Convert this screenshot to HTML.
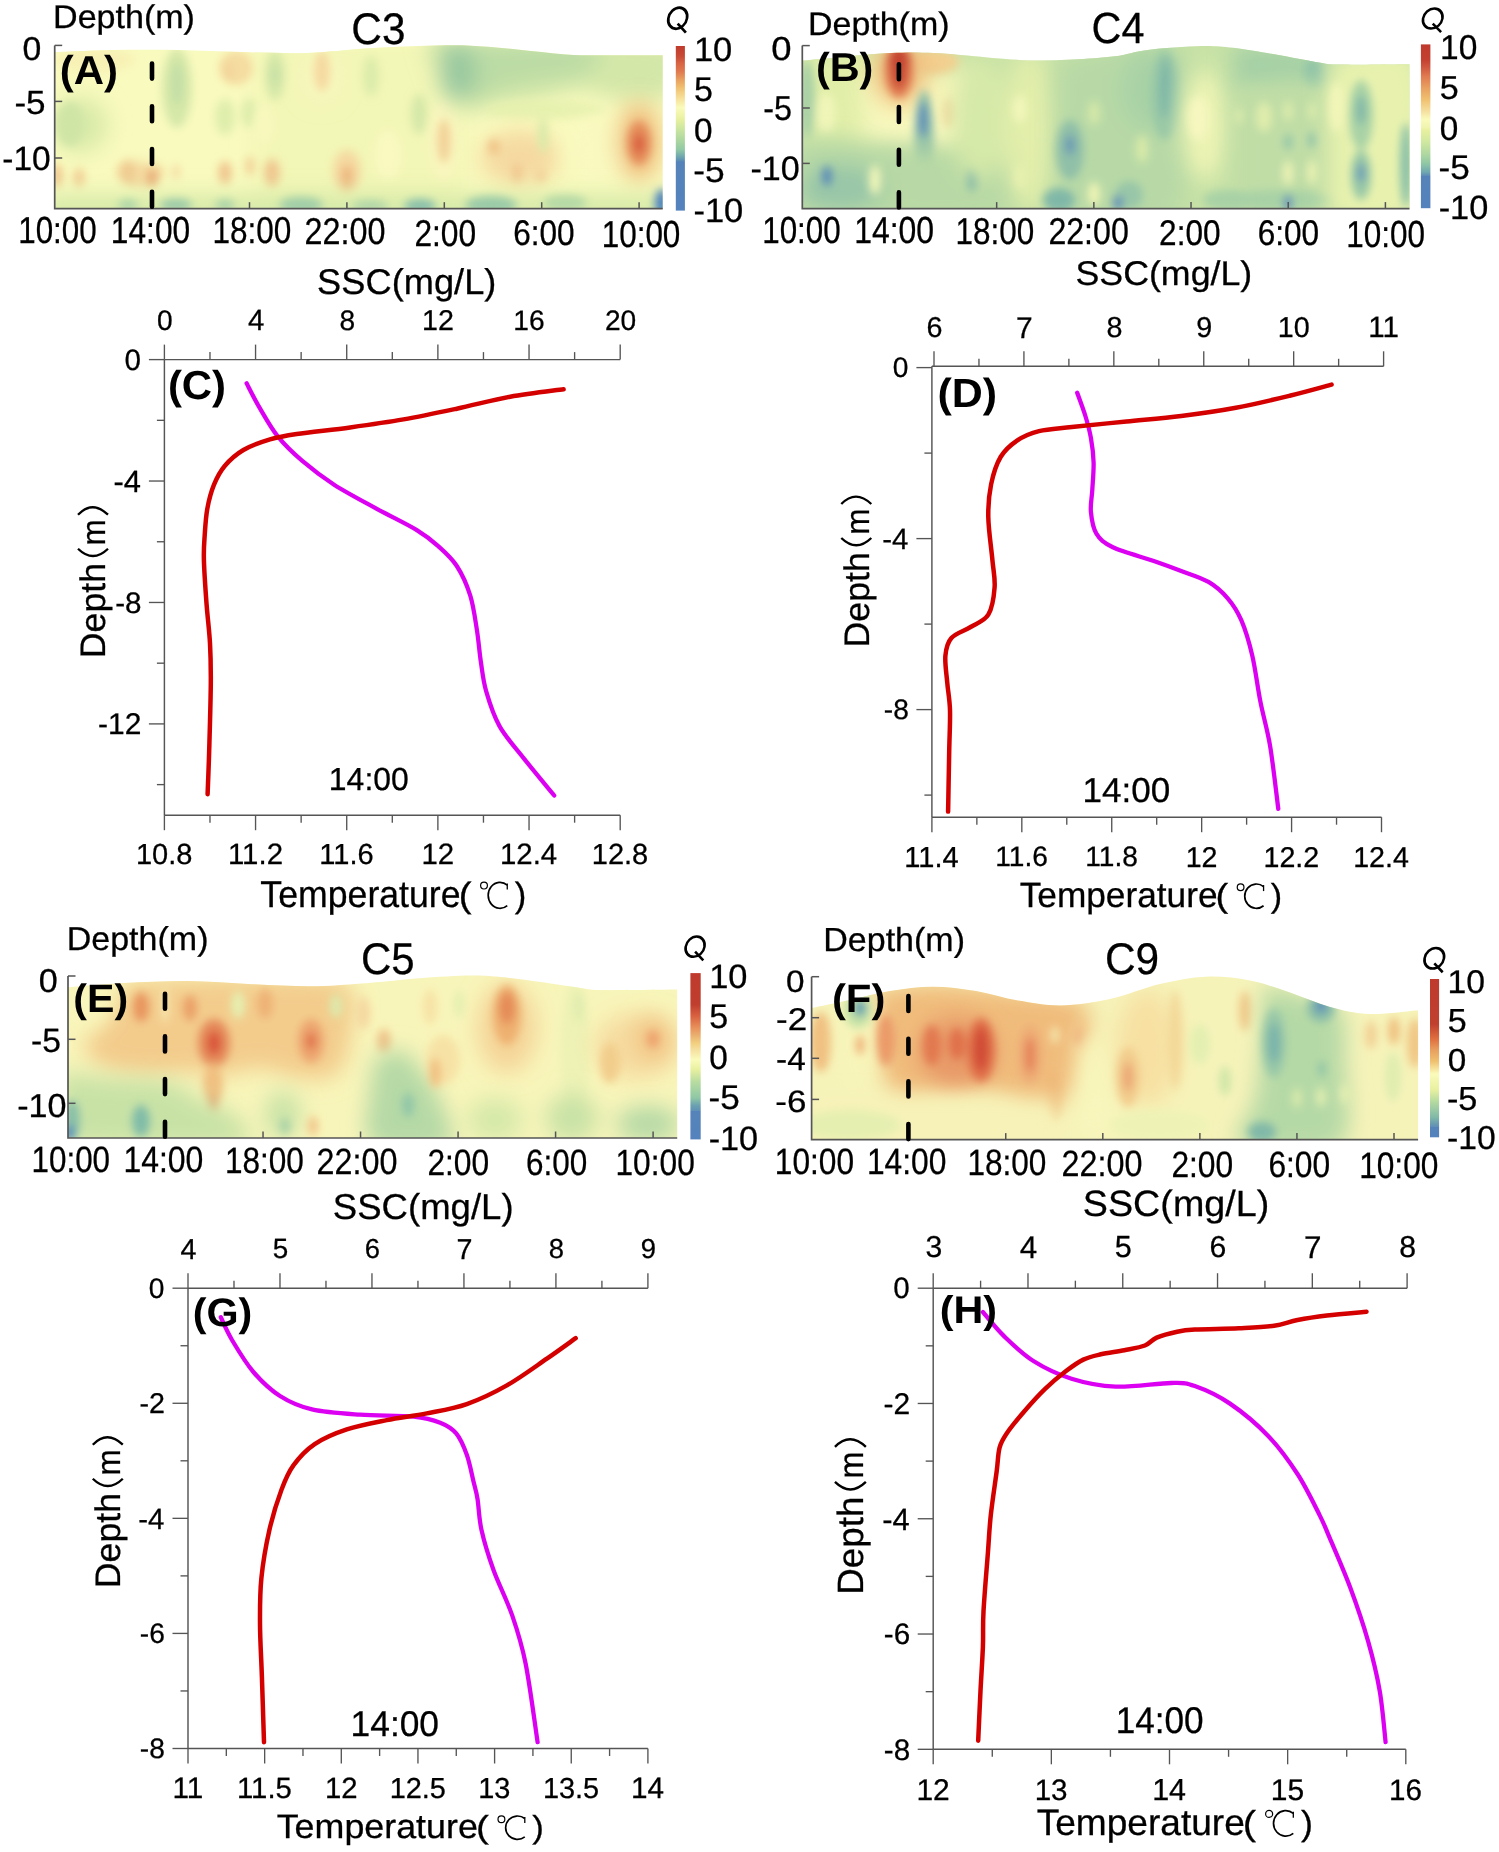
<!DOCTYPE html>
<html><head><meta charset="utf-8"><style>html,body{margin:0;padding:0;background:#fff;}svg{display:block;font-family:'Liberation Sans', sans-serif;-webkit-font-smoothing:antialiased;text-rendering:geometricPrecision;will-change:transform;}</style></head>
<body><svg width="1499" height="1852" viewBox="0 0 1499 1852">
<defs><clipPath id="clip0"><path d="M54.7,52 C64.58,51.65 93.45,50.25 114,49.9 C134.55,49.55 156.67,49.55 178,49.9 C199.33,50.25 220.67,51.47 242,52 C263.33,52.53 284.67,53.72 306,53.1 C327.33,52.48 346.77,49.62 370,48.3 C393.23,46.98 425.73,45.47 445.4,45.2 C465.07,44.93 473.77,45.73 488,46.7 C502.23,47.67 516.55,49.62 530.8,51 C545.05,52.38 559.3,54.3 573.5,55 C587.7,55.7 601.13,55.17 616,55.2 C630.87,55.23 654.92,55.2 662.7,55.2 L662.7,208.7 L54.7,208.7 Z"/></clipPath><filter id="blur0" filterUnits="userSpaceOnUse" x="-5.3" y="-14.8" width="728" height="283.5"><feGaussianBlur stdDeviation="4"/></filter><filter id="bblur0" filterUnits="userSpaceOnUse" x="-5.3" y="-14.8" width="728" height="283.5"><feGaussianBlur stdDeviation="11"/></filter><linearGradient id="cb0" x1="0" y1="0" x2="0" y2="1"><stop offset="0" stop-color="#bf3a2c"/><stop offset="0.06" stop-color="#c84a35"/><stop offset="0.108" stop-color="#d86545"/><stop offset="0.156" stop-color="#e07a50"/><stop offset="0.205" stop-color="#e8a060"/><stop offset="0.253" stop-color="#f0c070"/><stop offset="0.301" stop-color="#f5d890"/><stop offset="0.374" stop-color="#fafbbb"/><stop offset="0.446" stop-color="#e8f0a0"/><stop offset="0.494" stop-color="#d0e8a0"/><stop offset="0.583" stop-color="#a8d4a0"/><stop offset="0.631" stop-color="#90c8a5"/><stop offset="0.679" stop-color="#6aa0b0"/><stop offset="0.7" stop-color="#5a8ab5"/><stop offset="0.703" stop-color="#5583b9"/><stop offset="1" stop-color="#5382bd"/></linearGradient><clipPath id="clip1"><path d="M802.3,60.6 C808.2,60.07 822.92,58.65 837.7,57.4 C852.48,56.15 874.98,53.82 891,53.1 C907.02,52.38 917.8,52.38 933.8,53.1 C949.8,53.82 971,56.18 987,57.4 C1003,58.62 1015.55,60.05 1029.8,60.4 C1044.05,60.75 1058.3,60.18 1072.5,59.5 C1086.7,58.82 1102.47,57.9 1115,56.3 C1127.53,54.7 1133.37,51.62 1147.7,49.9 C1162.03,48.18 1186.78,46.35 1201,46 C1215.22,45.65 1220.53,46.37 1233,47.8 C1245.47,49.23 1261.55,52.15 1275.8,54.6 C1290.05,57.05 1307.8,60.83 1318.5,62.5 C1329.2,64.17 1324.83,64.32 1340,64.6 C1355.17,64.88 1397.92,64.27 1409.5,64.2 L1409.5,208.6 L802.3,208.6 Z"/></clipPath><filter id="blur1" filterUnits="userSpaceOnUse" x="742.3" y="-14" width="727.2" height="282.6"><feGaussianBlur stdDeviation="4"/></filter><filter id="bblur1" filterUnits="userSpaceOnUse" x="742.3" y="-14" width="727.2" height="282.6"><feGaussianBlur stdDeviation="11"/></filter><linearGradient id="cb1" x1="0" y1="0" x2="0" y2="1"><stop offset="0" stop-color="#bf3a2c"/><stop offset="0.094" stop-color="#c44030"/><stop offset="0.143" stop-color="#d05a40"/><stop offset="0.191" stop-color="#e07850"/><stop offset="0.264" stop-color="#e8a060"/><stop offset="0.336" stop-color="#f0c070"/><stop offset="0.409" stop-color="#f5e0a0"/><stop offset="0.458" stop-color="#fafbbb"/><stop offset="0.506" stop-color="#f0f5b0"/><stop offset="0.523" stop-color="#e8f0a0"/><stop offset="0.595" stop-color="#d0e8a0"/><stop offset="0.668" stop-color="#b0d8a0"/><stop offset="0.726" stop-color="#90c8a5"/><stop offset="0.779" stop-color="#70a8b0"/><stop offset="0.8" stop-color="#6090b5"/><stop offset="0.803" stop-color="#5583b9"/><stop offset="1" stop-color="#5382bd"/></linearGradient><clipPath id="clip2"><path d="M68,987.4 C77.33,986.68 104,984.17 124,983.1 C144,982.03 166.67,980.82 188,981 C209.33,981.18 230.67,983.32 252,984.2 C273.33,985.08 294.67,986.67 316,986.3 C337.33,985.93 363.83,983.25 380,982 C396.17,980.75 398.67,979.87 413,978.8 C427.33,977.73 451.83,975.95 466,975.6 C480.17,975.25 485.5,975.63 498,976.7 C510.5,977.77 526.75,980.05 541,982 C555.25,983.95 572.83,987.05 583.5,988.4 C594.17,989.75 589.38,989.92 605,990.1 C620.62,990.28 665.17,989.6 677.2,989.5 L677.2,1138 L68,1138 Z"/></clipPath><filter id="blur2" filterUnits="userSpaceOnUse" x="8" y="915.6" width="729.2" height="282.4"><feGaussianBlur stdDeviation="4"/></filter><filter id="bblur2" filterUnits="userSpaceOnUse" x="8" y="915.6" width="729.2" height="282.4"><feGaussianBlur stdDeviation="11"/></filter><linearGradient id="cb2" x1="0" y1="0" x2="0" y2="1"><stop offset="0" stop-color="#bf3a2c"/><stop offset="0.19" stop-color="#c03e2e"/><stop offset="0.256" stop-color="#d86040"/><stop offset="0.327" stop-color="#e8905a"/><stop offset="0.375" stop-color="#eab070"/><stop offset="0.422" stop-color="#f2d080"/><stop offset="0.462" stop-color="#f5e0a0"/><stop offset="0.52" stop-color="#fafbbb"/><stop offset="0.58" stop-color="#e8f0a0"/><stop offset="0.653" stop-color="#b8dca0"/><stop offset="0.749" stop-color="#90c8a5"/><stop offset="0.797" stop-color="#6aa0b0"/><stop offset="0.827" stop-color="#5f92b5"/><stop offset="0.83" stop-color="#5583b9"/><stop offset="1" stop-color="#5382bd"/></linearGradient><clipPath id="clip3"><path d="M811.6,1008 C818,1006.67 836.93,1002.83 850,1000 C863.07,997.17 876.17,993.22 890,991 C903.83,988.78 918.67,986.7 933,986.7 C947.33,986.7 961.83,988.68 976,991 C990.17,993.32 1003.83,998.18 1018,1000.6 C1032.17,1003.02 1045.67,1005.77 1061,1005.5 C1076.33,1005.23 1093.5,1002.58 1110,999 C1126.5,995.42 1144,987.72 1160,984 C1176,980.28 1191,977.28 1206,976.7 C1221,976.12 1236,977.87 1250,980.5 C1264,983.13 1276.67,988.08 1290,992.5 C1303.33,996.92 1316.67,1003.42 1330,1007 C1343.33,1010.58 1355.32,1013.47 1370,1014 C1384.68,1014.53 1410.08,1010.83 1418.1,1010.2 L1418.1,1139.6 L811.6,1139.6 Z"/></clipPath><filter id="blur3" filterUnits="userSpaceOnUse" x="751.6" y="916.7" width="726.5" height="282.9"><feGaussianBlur stdDeviation="4"/></filter><filter id="bblur3" filterUnits="userSpaceOnUse" x="751.6" y="916.7" width="726.5" height="282.9"><feGaussianBlur stdDeviation="11"/></filter><linearGradient id="cb3" x1="0" y1="0" x2="0" y2="1"><stop offset="0" stop-color="#bf3a2c"/><stop offset="0.285" stop-color="#c0402e"/><stop offset="0.38" stop-color="#e07040"/><stop offset="0.45" stop-color="#e8a060"/><stop offset="0.52" stop-color="#f0c070"/><stop offset="0.6" stop-color="#fafbbb"/><stop offset="0.7" stop-color="#e8f0a0"/><stop offset="0.77" stop-color="#b8dca0"/><stop offset="0.875" stop-color="#80b8a8"/><stop offset="0.915" stop-color="#6a9ab0"/><stop offset="0.932" stop-color="#6090b5"/><stop offset="0.935" stop-color="#5583b9"/><stop offset="1" stop-color="#5382bd"/></linearGradient></defs>
<rect width="1499" height="1852" fill="#fff"/>
<g clip-path="url(#clip0)">
<rect x="24.7" y="15.2" width="668" height="223.5" fill="#f9fabe"/>
<g filter="url(#bblur0)">
<rect x="255" y="40" width="210" height="180" fill="#f2f6b6" opacity="1"/>
</g>
<g filter="url(#blur0)">
<ellipse cx="95" cy="60" rx="40" ry="12" fill="#f8f1b5" opacity="1"/>
</g>
<g filter="url(#bblur0)">
<ellipse cx="80" cy="125" rx="28" ry="28" fill="#d8eaa8" opacity="1"/>
</g>
<g filter="url(#blur0)">
<ellipse cx="70" cy="124" rx="14" ry="22" fill="#cfe5a6" opacity="1"/>
<ellipse cx="177" cy="88" rx="15" ry="40" fill="#d5e8a8" opacity="1"/>
<ellipse cx="177" cy="84" rx="6" ry="22" fill="#c2dea6" opacity="1"/>
<ellipse cx="236" cy="68" rx="17" ry="17" fill="#f5dca0" opacity="1"/>
<ellipse cx="228" cy="72" rx="4" ry="10" fill="#f2d298" opacity="1"/>
<ellipse cx="225" cy="117" rx="10" ry="18" fill="#dfeeac" opacity="1"/>
<ellipse cx="249" cy="113" rx="8" ry="15" fill="#dfeeac" opacity="1"/>
<ellipse cx="140" cy="172" rx="24" ry="16" fill="#f5dca0" opacity="1"/>
<ellipse cx="57" cy="176" rx="6" ry="12" fill="#f0c890" opacity="1"/>
<ellipse cx="79" cy="178" rx="6" ry="10" fill="#f2cf95" opacity="1"/>
<ellipse cx="128" cy="173" rx="8" ry="12" fill="#f0cc92" opacity="1"/>
<ellipse cx="152" cy="178" rx="6" ry="10" fill="#eab07a" opacity="1"/>
<ellipse cx="176" cy="172" rx="4" ry="8" fill="#f5dca5" opacity="1"/>
<ellipse cx="225" cy="173" rx="7" ry="12" fill="#f0c890" opacity="1"/>
<ellipse cx="250" cy="166" rx="5" ry="10" fill="#f3d49a" opacity="1"/>
<ellipse cx="160" cy="150" rx="40" ry="15" fill="#f9fabe" opacity="0.8"/>
<ellipse cx="275" cy="75" rx="10" ry="25" fill="#d5e8a8" opacity="1"/>
<ellipse cx="275" cy="75" rx="4" ry="10" fill="#c5dfa6" opacity="1"/>
</g>
<g filter="url(#bblur0)">
<ellipse cx="322" cy="76" rx="18" ry="24" fill="#f9f8c0" opacity="1"/>
</g>
<g filter="url(#blur0)">
<ellipse cx="322" cy="71" rx="8" ry="20" fill="#f5d9a0" opacity="1"/>
<ellipse cx="371" cy="76" rx="8" ry="20" fill="#dcecaa" opacity="1"/>
<ellipse cx="419" cy="114" rx="8" ry="20" fill="#d5e8a8" opacity="1"/>
<ellipse cx="444" cy="140" rx="15" ry="42" fill="#f9f6bd" opacity="1"/>
<ellipse cx="444" cy="141" rx="7" ry="22" fill="#f2d298" opacity="1"/>
<ellipse cx="388" cy="155" rx="14" ry="25" fill="#f9f9c0" opacity="1"/>
<ellipse cx="265" cy="125" rx="10" ry="20" fill="#f8f8bd" opacity="1"/>
<ellipse cx="272" cy="173" rx="8" ry="14" fill="#f0c890" opacity="1"/>
<ellipse cx="347" cy="172" rx="14" ry="22" fill="#f5d9a0" opacity="1"/>
<ellipse cx="347" cy="177" rx="6" ry="12" fill="#eeb880" opacity="1"/>
</g>
<g filter="url(#bblur0)">
<path d="M425,40 C465.83,40 629.17,30.83 670,40 C710.83,49.17 678.33,85 670,95 C661.67,105 635,100.83 620,100 C605,99.17 593.33,90 580,90 C566.67,90 553.33,97.5 540,100 C526.67,102.5 511.67,103 500,105 C488.33,107 479.17,113.67 470,112 C460.83,110.33 449.17,97.83 445,95 Z" fill="#d3e7a8" opacity="1"/>
<path d="M430,40 C456.67,40 564.17,34.17 590,40 C615.83,45.83 592.5,68 585,75 C577.5,82 557.5,79.83 545,82 C532.5,84.17 520.83,85 510,88 C499.17,91 489.17,99.67 480,100 C470.83,100.33 459.17,91.67 455,90 Z" fill="#bcdca5" opacity="1"/>
<ellipse cx="458" cy="72" rx="18" ry="30" fill="#98c8a0" opacity="1"/>
</g>
<g filter="url(#blur0)">
<ellipse cx="545" cy="110" rx="60" ry="10" fill="#e5f0ac" opacity="0.8"/>
</g>
<g filter="url(#bblur0)">
<ellipse cx="520" cy="158" rx="40" ry="28" fill="#f5d9a0" opacity="1"/>
</g>
<g filter="url(#blur0)">
<ellipse cx="494" cy="147" rx="6" ry="8" fill="#f0c488" opacity="1"/>
<ellipse cx="517" cy="173" rx="5" ry="10" fill="#f0c890" opacity="1"/>
<ellipse cx="541" cy="176" rx="4" ry="7" fill="#f2cc94" opacity="1"/>
<ellipse cx="543" cy="135" rx="5" ry="18" fill="#d8eaa8" opacity="1"/>
</g>
<g filter="url(#bblur0)">
<ellipse cx="600" cy="150" rx="30" ry="30" fill="#f9f9c0" opacity="1"/>
<ellipse cx="639" cy="142" rx="22" ry="40" fill="#f0c080" opacity="1"/>
</g>
<g filter="url(#blur0)">
<ellipse cx="639" cy="143" rx="12" ry="22" fill="#e58c5a" opacity="1"/>
<ellipse cx="639" cy="144" rx="5" ry="10" fill="#d85a3c" opacity="1"/>
</g>
<g filter="url(#bblur0)">
<rect x="40" y="195" width="640" height="30" fill="#d5eaa8" opacity="1"/>
</g>
<g filter="url(#blur0)">
<ellipse cx="128" cy="205" rx="10" ry="5" fill="#a8d3a8" opacity="1"/>
<ellipse cx="176" cy="205" rx="16" ry="6" fill="#98c8a8" opacity="1"/>
<ellipse cx="225" cy="205" rx="10" ry="5" fill="#a5d0a8" opacity="1"/>
<ellipse cx="301" cy="205" rx="22" ry="8" fill="#a0cea8" opacity="1"/>
<ellipse cx="370" cy="206" rx="18" ry="6" fill="#b0d6a8" opacity="1"/>
<ellipse cx="420" cy="206" rx="16" ry="7" fill="#88bfab" opacity="1"/>
<ellipse cx="491" cy="205" rx="26" ry="9" fill="#9acaa8" opacity="1"/>
<ellipse cx="565" cy="203" rx="22" ry="8" fill="#b5d9a6" opacity="1"/>
<ellipse cx="662" cy="203" rx="7" ry="14" fill="#4a80bf" opacity="1"/>
</g>
</g>
<path d="M54.7,45.4 V208.7 H662.7" fill="none" stroke="#555" stroke-width="1.7"/>
<line x1="54.7" y1="45.4" x2="62.2" y2="45.4" stroke="#555" stroke-width="1.5"/>
<line x1="54.7" y1="101.4" x2="62.2" y2="101.4" stroke="#555" stroke-width="1.5"/>
<line x1="54.7" y1="158" x2="62.2" y2="158" stroke="#555" stroke-width="1.5"/>
<line x1="152.1" y1="208.7" x2="152.1" y2="202.2" stroke="#555" stroke-width="1.5"/>
<line x1="249.5" y1="208.7" x2="249.5" y2="202.2" stroke="#555" stroke-width="1.5"/>
<line x1="346.9" y1="208.7" x2="346.9" y2="202.2" stroke="#555" stroke-width="1.5"/>
<line x1="444.3" y1="208.7" x2="444.3" y2="202.2" stroke="#555" stroke-width="1.5"/>
<line x1="541.7" y1="208.7" x2="541.7" y2="202.2" stroke="#555" stroke-width="1.5"/>
<line x1="639.1" y1="208.7" x2="639.1" y2="202.2" stroke="#555" stroke-width="1.5"/>
<line x1="152" y1="63.6" x2="152" y2="208.7" stroke="#000" stroke-width="4.6" stroke-dasharray="15 27.7" stroke-linecap="round" stroke-dashoffset="0"/>
<rect x="675.8" y="46" width="9.1" height="164.6" fill="url(#cb0)"/>
<text transform="translate(53.08,28.12) scale(0.3404,0.3277)" font-size="100" fill="#000" stroke="#000" stroke-width="0.85">Depth(m)</text>
<text transform="translate(351.28,44.26) scale(0.4237,0.4423)" font-size="100" fill="#000" stroke="#000" stroke-width="0.63">C3</text>
<ellipse cx="0" cy="0" rx="9.32" ry="10.58" fill="none" stroke="#000" stroke-width="2.69" transform="translate(677.7,18.22) skewX(-9)"/><line x1="677.7" y1="23.56" x2="685.89" y2="32.63" stroke="#000" stroke-width="2.69"/>
<text transform="translate(59.7,83.51) scale(0.4202,0.4043)" font-size="100" font-weight="bold" fill="#000">(A)</text>
<text transform="translate(22.55,60.47) scale(0.3375,0.3310)" font-size="100" fill="#000" stroke="#000" stroke-width="0.85">0</text>
<text transform="translate(14.4,113.56) scale(0.3506,0.3357)" font-size="100" fill="#000" stroke="#000" stroke-width="0.83">-5</text>
<text transform="translate(2.26,170.26) scale(0.3343,0.3366)" font-size="100" fill="#000" stroke="#000" stroke-width="0.83">-10</text>
<text transform="translate(18.19,243.02) scale(0.3139,0.3761)" font-size="100" fill="#000" stroke="#000" stroke-width="0.74">10:00</text>
<text transform="translate(110.87,243.02) scale(0.3168,0.3761)" font-size="100" fill="#000" stroke="#000" stroke-width="0.74">14:00</text>
<text transform="translate(212.48,243.13) scale(0.3151,0.3732)" font-size="100" fill="#000" stroke="#000" stroke-width="0.75">18:00</text>
<text transform="translate(304.38,244.13) scale(0.3237,0.3732)" font-size="100" fill="#000" stroke="#000" stroke-width="0.75">22:00</text>
<text transform="translate(414.41,245.63) scale(0.3172,0.3732)" font-size="100" fill="#000" stroke="#000" stroke-width="0.75">2:00</text>
<text transform="translate(513.22,244.64) scale(0.3156,0.3563)" font-size="100" fill="#000" stroke="#000" stroke-width="0.79">6:00</text>
<text transform="translate(601.69,247.32) scale(0.3143,0.3761)" font-size="100" fill="#000" stroke="#000" stroke-width="0.74">10:00</text>
<text transform="translate(693.94,61.06) scale(0.3444,0.3380)" font-size="100" fill="#000" stroke="#000" stroke-width="0.83">10</text>
<text transform="translate(693.94,101.06) scale(0.3404,0.3429)" font-size="100" fill="#000" stroke="#000" stroke-width="0.82">5</text>
<text transform="translate(693.97,141.66) scale(0.3333,0.3380)" font-size="100" fill="#000" stroke="#000" stroke-width="0.83">0</text>
<text transform="translate(693.29,181.66) scale(0.3531,0.3429)" font-size="100" fill="#000" stroke="#000" stroke-width="0.82">-5</text>
<text transform="translate(693.42,221.66) scale(0.3445,0.3380)" font-size="100" fill="#000" stroke="#000" stroke-width="0.83">-10</text>
<g clip-path="url(#clip1)">
<rect x="772.3" y="16" width="667.2" height="222.6" fill="#c8e2a6"/>
<g filter="url(#bblur1)">
<path d="M795,55 C809.17,54.17 865.83,36.17 880,50 C894.17,63.83 886.67,123 880,138 C873.33,153 854.17,139.67 840,140 C825.83,140.33 802.5,140 795,140 Z" fill="#e0eea8" opacity="1"/>
</g>
<g filter="url(#blur1)">
<ellipse cx="807" cy="100" rx="8" ry="40" fill="#a8d0a5" opacity="1"/>
<ellipse cx="826" cy="113" rx="10" ry="20" fill="#f0f5b8" opacity="1"/>
</g>
<g filter="url(#bblur1)">
<path d="M860,75 C879.17,75 956.67,63.33 975,75 C993.33,86.67 988.33,133.33 970,145 C951.67,156.67 882.5,145 865,145 Z" fill="#f8f8bd" opacity="1"/>
<ellipse cx="950" cy="100" rx="20" ry="25" fill="#f6f4b8" opacity="1"/>
</g>
<g filter="url(#blur1)">
<ellipse cx="935" cy="62" rx="25" ry="12" fill="#f3d090" opacity="1"/>
</g>
<g filter="url(#bblur1)">
<ellipse cx="900" cy="72" rx="28" ry="34" fill="#f0c080" opacity="1"/>
</g>
<g filter="url(#blur1)">
<ellipse cx="899" cy="70" rx="14" ry="28" fill="#e07850" opacity="1"/>
<ellipse cx="899" cy="66" rx="8" ry="22" fill="#c44530" opacity="1"/>
<ellipse cx="899" cy="60" rx="10" ry="10" fill="#c44530" opacity="1"/>
<ellipse cx="924" cy="140" rx="10" ry="50" fill="#90c0a8" opacity="1"/>
<ellipse cx="923" cy="120" rx="5" ry="18" fill="#6090b8" opacity="1"/>
<ellipse cx="924" cy="160" rx="4" ry="15" fill="#80b4aa" opacity="1"/>
<ellipse cx="949" cy="113" rx="6" ry="15" fill="#f3d8a0" opacity="1"/>
</g>
<g filter="url(#bblur1)">
<path d="M795,140 C809.17,140.83 852.5,143.33 880,145 C907.5,146.67 939.17,150 960,150 C980.83,150 997.5,134.17 1005,145 C1012.5,155.83 1040,203.33 1005,215 C970,226.67 830,215 795,215 Z" fill="#b8d9a5" opacity="1"/>
<ellipse cx="840" cy="188" rx="42" ry="24" fill="#98c6a8" opacity="1"/>
</g>
<g filter="url(#blur1)">
<ellipse cx="827" cy="176" rx="5" ry="10" fill="#5a8ab8" opacity="1"/>
<ellipse cx="875" cy="180" rx="6" ry="15" fill="#f0f5b8" opacity="1"/>
<ellipse cx="972" cy="179" rx="5" ry="12" fill="#78b0a8" opacity="1"/>
</g>
<g filter="url(#bblur1)">
<ellipse cx="980" cy="120" rx="28" ry="60" fill="#d5e9a8" opacity="1"/>
<ellipse cx="1030" cy="130" rx="26" ry="80" fill="#e2eeaa" opacity="1"/>
</g>
<g filter="url(#blur1)">
<ellipse cx="1020" cy="109" rx="7" ry="14" fill="#f2f6ba" opacity="1"/>
<ellipse cx="1020" cy="177" rx="5" ry="12" fill="#e8f1b0" opacity="1"/>
</g>
<g filter="url(#bblur1)">
<path d="M1056,60 C1076.33,58 1157.67,22.17 1178,48 C1198.33,73.83 1198.33,187.17 1178,215 C1157.67,242.83 1076.33,215 1056,215 Z" fill="#b8d9a6" opacity="1"/>
<ellipse cx="1150" cy="90" rx="30" ry="40" fill="#a8d2a6" opacity="1"/>
</g>
<g filter="url(#blur1)">
<ellipse cx="1165" cy="95" rx="14" ry="45" fill="#98c8a6" opacity="1"/>
<ellipse cx="1165" cy="89" rx="6" ry="30" fill="#80b8a8" opacity="1"/>
<ellipse cx="1070" cy="150" rx="14" ry="30" fill="#90c0a8" opacity="1"/>
<ellipse cx="1070" cy="145" rx="5" ry="10" fill="#6a98b5" opacity="1"/>
<ellipse cx="1094" cy="113" rx="6" ry="12" fill="#d5e8a8" opacity="1"/>
<ellipse cx="1142" cy="149" rx="6" ry="14" fill="#d8eaa8" opacity="1"/>
<ellipse cx="1094" cy="194" rx="6" ry="12" fill="#f0f5b5" opacity="1"/>
<ellipse cx="1059" cy="200" rx="16" ry="12" fill="#80b8a8" opacity="1"/>
<ellipse cx="1129" cy="195" rx="14" ry="14" fill="#98c6a8" opacity="1"/>
<ellipse cx="1118" cy="203" rx="5" ry="8" fill="#6090b8" opacity="1"/>
</g>
<g filter="url(#bblur1)">
<ellipse cx="1205" cy="125" rx="22" ry="55" fill="#eef4b4" opacity="1"/>
</g>
<g filter="url(#blur1)">
<ellipse cx="1198" cy="118" rx="10" ry="22" fill="#f6f7c0" opacity="1"/>
</g>
<g filter="url(#bblur1)">
<path d="M1233,44 C1249.17,45.33 1314.17,44.33 1330,52 C1345.83,59.67 1344.17,83.67 1328,90 C1311.83,96.33 1248.83,90 1233,90 Z" fill="#a5d0a6" opacity="1"/>
</g>
<g filter="url(#blur1)">
<ellipse cx="1314" cy="75" rx="10" ry="15" fill="#88c0a8" opacity="1"/>
</g>
<g filter="url(#bblur1)">
<path d="M1233,90 C1248.83,90 1312.17,69.17 1328,90 C1343.83,110.83 1343.83,194.17 1328,215 C1312.17,235.83 1248.83,215 1233,215 Z" fill="#c0dda6" opacity="1"/>
</g>
<g filter="url(#blur1)">
<ellipse cx="1264" cy="117" rx="8" ry="15" fill="#e0edac" opacity="1"/>
<ellipse cx="1288" cy="111" rx="5" ry="10" fill="#dbebab" opacity="1"/>
<ellipse cx="1239" cy="116" rx="4" ry="8" fill="#dbebab" opacity="1"/>
<ellipse cx="1312" cy="111" rx="4" ry="9" fill="#dbebab" opacity="1"/>
<ellipse cx="1288" cy="173" rx="5" ry="12" fill="#eef3b5" opacity="1"/>
<ellipse cx="1312" cy="172" rx="5" ry="12" fill="#eaf2b2" opacity="1"/>
<ellipse cx="1288" cy="142" rx="4" ry="8" fill="#90c4a8" opacity="1"/>
<ellipse cx="1312" cy="140" rx="4" ry="8" fill="#8cc0a8" opacity="1"/>
<ellipse cx="1280" cy="200" rx="55" ry="10" fill="#a8d2a6" opacity="1"/>
<ellipse cx="1288" cy="203" rx="4" ry="8" fill="#4f82bc" opacity="1"/>
</g>
<g filter="url(#bblur1)">
<path d="M1328,60 C1342.5,60 1400.5,34.17 1415,60 C1429.5,85.83 1429.5,189.17 1415,215 C1400.5,240.83 1342.5,215 1328,215 Z" fill="#e8f2ae" opacity="1"/>
</g>
<g filter="url(#blur1)">
<ellipse cx="1337" cy="107" rx="8" ry="25" fill="#f2f6b8" opacity="1"/>
<ellipse cx="1361" cy="115" rx="12" ry="35" fill="#a8d2a6" opacity="1"/>
<ellipse cx="1361" cy="110" rx="5" ry="15" fill="#80b8a8" opacity="1"/>
<ellipse cx="1361" cy="175" rx="10" ry="25" fill="#98c8a6" opacity="1"/>
<ellipse cx="1361" cy="173" rx="4" ry="10" fill="#6a9ab8" opacity="1"/>
<ellipse cx="1406" cy="165" rx="6" ry="42" fill="#88c0a8" opacity="1"/>
<ellipse cx="1225" cy="200" rx="22" ry="10" fill="#a8d2a6" opacity="1"/>
</g>
</g>
<path d="M802.3,45.6 V208.6 H1409.5" fill="none" stroke="#555" stroke-width="1.7"/>
<line x1="802.3" y1="45.6" x2="809.8" y2="45.6" stroke="#555" stroke-width="1.5"/>
<line x1="802.3" y1="108" x2="809.8" y2="108" stroke="#555" stroke-width="1.5"/>
<line x1="802.3" y1="163.4" x2="809.8" y2="163.4" stroke="#555" stroke-width="1.5"/>
<line x1="899.48" y1="208.6" x2="899.48" y2="202.1" stroke="#555" stroke-width="1.5"/>
<line x1="996.67" y1="208.6" x2="996.67" y2="202.1" stroke="#555" stroke-width="1.5"/>
<line x1="1093.85" y1="208.6" x2="1093.85" y2="202.1" stroke="#555" stroke-width="1.5"/>
<line x1="1191.03" y1="208.6" x2="1191.03" y2="202.1" stroke="#555" stroke-width="1.5"/>
<line x1="1288.22" y1="208.6" x2="1288.22" y2="202.1" stroke="#555" stroke-width="1.5"/>
<line x1="1385.4" y1="208.6" x2="1385.4" y2="202.1" stroke="#555" stroke-width="1.5"/>
<line x1="898.9" y1="64.3" x2="898.9" y2="208.6" stroke="#000" stroke-width="4.6" stroke-dasharray="15 27.7" stroke-linecap="round" stroke-dashoffset="0"/>
<rect x="1420.9" y="44.4" width="9.5" height="163.8" fill="url(#cb1)"/>
<text transform="translate(807.98,35.14) scale(0.3395,0.3266)" font-size="100" fill="#000" stroke="#000" stroke-width="0.86">Depth(m)</text>
<text transform="translate(1091.53,43.06) scale(0.4142,0.4366)" font-size="100" fill="#000" stroke="#000" stroke-width="0.64">C4</text>
<ellipse cx="0" cy="0" rx="9.7" ry="10" fill="none" stroke="#000" stroke-width="2.54" transform="translate(1432.75,18.57) skewX(-9)"/><line x1="1432.75" y1="23.62" x2="1441.12" y2="32.18" stroke="#000" stroke-width="2.54"/>
<text transform="translate(815.93,80.91) scale(0.4140,0.4043)" font-size="100" font-weight="bold" fill="#000">(B)</text>
<text transform="translate(771.34,60.47) scale(0.3646,0.3324)" font-size="100" fill="#000" stroke="#000" stroke-width="0.84">0</text>
<text transform="translate(763.31,119.96) scale(0.3235,0.3443)" font-size="100" fill="#000" stroke="#000" stroke-width="0.81">-5</text>
<text transform="translate(750.44,179.96) scale(0.3409,0.3394)" font-size="100" fill="#000" stroke="#000" stroke-width="0.82">-10</text>
<text transform="translate(762.19,243.32) scale(0.3139,0.3761)" font-size="100" fill="#000" stroke="#000" stroke-width="0.74">10:00</text>
<text transform="translate(854.14,243.32) scale(0.3197,0.3761)" font-size="100" fill="#000" stroke="#000" stroke-width="0.74">14:00</text>
<text transform="translate(955.48,243.63) scale(0.3147,0.3732)" font-size="100" fill="#000" stroke="#000" stroke-width="0.75">18:00</text>
<text transform="translate(1048.39,244.13) scale(0.3212,0.3732)" font-size="100" fill="#000" stroke="#000" stroke-width="0.75">22:00</text>
<text transform="translate(1159.12,244.64) scale(0.3156,0.3563)" font-size="100" fill="#000" stroke="#000" stroke-width="0.79">2:00</text>
<text transform="translate(1257.72,244.64) scale(0.3156,0.3563)" font-size="100" fill="#000" stroke="#000" stroke-width="0.79">6:00</text>
<text transform="translate(1346.18,247.32) scale(0.3147,0.3761)" font-size="100" fill="#000" stroke="#000" stroke-width="0.74">10:00</text>
<text transform="translate(1440.02,59.35) scale(0.3354,0.3451)" font-size="100" fill="#000" stroke="#000" stroke-width="0.81">10</text>
<text transform="translate(1439.64,98.57) scale(0.3404,0.3314)" font-size="100" fill="#000" stroke="#000" stroke-width="0.84">5</text>
<text transform="translate(1439.67,139.66) scale(0.3333,0.3380)" font-size="100" fill="#000" stroke="#000" stroke-width="0.83">0</text>
<text transform="translate(1438.59,179.16) scale(0.3519,0.3429)" font-size="100" fill="#000" stroke="#000" stroke-width="0.82">-5</text>
<text transform="translate(1438.63,219.16) scale(0.3431,0.3366)" font-size="100" fill="#000" stroke="#000" stroke-width="0.83">-10</text>
<g clip-path="url(#clip2)">
<rect x="38" y="945.6" width="669.2" height="222.4" fill="#f8f5ba"/>
<g filter="url(#bblur2)">
<path d="M128,982 C146.67,981.33 203.83,977.67 240,978 C276.17,978.33 326.67,973.67 345,984 C363.33,994.33 351.67,1024.83 350,1040 C348.33,1055.17 343.33,1068.67 335,1075 C326.67,1081.33 312.5,1079.17 300,1078 C287.5,1076.83 272.5,1068.5 260,1068 C247.5,1067.5 236.67,1074.33 225,1075 C213.33,1075.67 202.5,1072 190,1072 C177.5,1072 164.17,1075.67 150,1075 C135.83,1074.33 115.83,1073 105,1068 C94.17,1063 84.17,1054.67 85,1045 C85.83,1035.33 105.83,1015.83 110,1010 Z" fill="#f3cc8c" opacity="1"/>
</g>
<g filter="url(#blur2)">
<ellipse cx="141" cy="1007" rx="8" ry="15" fill="#e8955f" opacity="1"/>
<ellipse cx="190" cy="1008" rx="7" ry="13" fill="#eaa068" opacity="1"/>
<ellipse cx="214" cy="1043" rx="16" ry="24" fill="#e58a5a" opacity="1"/>
<ellipse cx="214" cy="1043" rx="7" ry="12" fill="#d9553a" opacity="1"/>
<ellipse cx="213" cy="1085" rx="10" ry="22" fill="#f0c080" opacity="1"/>
<ellipse cx="213" cy="1104" rx="5" ry="10" fill="#eca070" opacity="1"/>
<ellipse cx="165" cy="1005" rx="4" ry="18" fill="#f6e8b0" opacity="1"/>
<ellipse cx="238" cy="1005" rx="7" ry="14" fill="#e5efb0" opacity="1"/>
<ellipse cx="265" cy="1004" rx="8" ry="15" fill="#eeb276" opacity="1"/>
<ellipse cx="311" cy="1041" rx="13" ry="22" fill="#eda570" opacity="1"/>
<ellipse cx="311" cy="1041" rx="5" ry="9" fill="#e07048" opacity="1"/>
<ellipse cx="336" cy="1006" rx="6" ry="12" fill="#dbebad" opacity="1"/>
</g>
<g filter="url(#bblur2)">
<ellipse cx="88" cy="1005" rx="22" ry="22" fill="#f9f6bc" opacity="1"/>
<path d="M60,1072 C68.33,1073 91.67,1076.33 110,1078 C128.33,1079.67 155,1078.33 170,1082 C185,1085.67 190,1095 200,1100 C210,1105 223.33,1104.5 230,1112 C236.67,1119.5 268.33,1139.5 240,1145 C211.67,1150.5 90,1145 60,1145 Z" fill="#c8e2a6" opacity="1"/>
</g>
<g filter="url(#blur2)">
<ellipse cx="141" cy="1121" rx="9" ry="16" fill="#80bca8" opacity="1"/>
<ellipse cx="72" cy="1120" rx="8" ry="20" fill="#88bfa8" opacity="1"/>
<ellipse cx="69" cy="1133" rx="5" ry="8" fill="#4f85bc" opacity="1"/>
</g>
<g filter="url(#bblur2)">
<ellipse cx="283" cy="1115" rx="18" ry="25" fill="#c9e3a7" opacity="1"/>
</g>
<g filter="url(#blur2)">
<ellipse cx="285" cy="1126" rx="5" ry="8" fill="#a5d0a6" opacity="1"/>
<ellipse cx="313" cy="1126" rx="5" ry="10" fill="#f2c488" opacity="1"/>
<ellipse cx="363" cy="1013" rx="7" ry="16" fill="#f5d8a0" opacity="1"/>
<ellipse cx="384" cy="1041" rx="7" ry="12" fill="#f0c288" opacity="1"/>
</g>
<g filter="url(#bblur2)">
<path d="M374,1060 C378.33,1058.33 391.5,1047.5 400,1050 C408.5,1052.5 418.33,1066.67 425,1075 C431.67,1083.33 435.83,1088.33 440,1100 C444.17,1111.67 461.33,1137.5 450,1145 C438.67,1152.5 385.33,1154.17 372,1145 C358.67,1135.83 370.33,1099.17 370,1090 Z" fill="#b5d9a6" opacity="1"/>
</g>
<g filter="url(#blur2)">
<ellipse cx="408" cy="1105" rx="6" ry="12" fill="#90c6a8" opacity="1"/>
<ellipse cx="443" cy="1060" rx="17" ry="25" fill="#f7e2a5" opacity="1"/>
<ellipse cx="435" cy="1073" rx="6" ry="15" fill="#f0c080" opacity="1"/>
<ellipse cx="430" cy="1007" rx="7" ry="18" fill="#f7e2a5" opacity="1"/>
<ellipse cx="459" cy="1004" rx="5" ry="14" fill="#e3efb0" opacity="1"/>
</g>
<g filter="url(#bblur2)">
<ellipse cx="507" cy="1028" rx="30" ry="45" fill="#f5d498" opacity="1"/>
</g>
<g filter="url(#blur2)">
<ellipse cx="507" cy="1015" rx="14" ry="30" fill="#eeb070" opacity="1"/>
<ellipse cx="507" cy="1008" rx="8" ry="16" fill="#e58a58" opacity="1"/>
<ellipse cx="579" cy="1007" rx="6" ry="16" fill="#cce4a8" opacity="1"/>
<ellipse cx="575" cy="1050" rx="15" ry="70" fill="#eaf1b2" opacity="0.7"/>
</g>
<g filter="url(#bblur2)">
<ellipse cx="636" cy="1046" rx="42" ry="33" fill="#f6dca0" opacity="1"/>
</g>
<g filter="url(#blur2)">
<ellipse cx="610" cy="1063" rx="10" ry="20" fill="#f2cd8c" opacity="1"/>
</g>
<g filter="url(#bblur2)">
<ellipse cx="653" cy="1039" rx="18" ry="22" fill="#f2c585" opacity="1"/>
</g>
<g filter="url(#blur2)">
<ellipse cx="653" cy="1039" rx="6" ry="9" fill="#eda06c" opacity="1"/>
</g>
<g filter="url(#bblur2)">
<ellipse cx="572" cy="1118" rx="26" ry="24" fill="#c8e2a6" opacity="1"/>
<ellipse cx="648" cy="1124" rx="32" ry="18" fill="#b5d9a6" opacity="1"/>
<ellipse cx="495" cy="1120" rx="28" ry="22" fill="#d5e9a8" opacity="1"/>
</g>
</g>
<path d="M68,976 V1138 H677.2" fill="none" stroke="#555" stroke-width="1.7"/>
<line x1="68" y1="976" x2="75.5" y2="976" stroke="#555" stroke-width="1.5"/>
<line x1="68" y1="1039.3" x2="75.5" y2="1039.3" stroke="#555" stroke-width="1.5"/>
<line x1="68" y1="1103.3" x2="75.5" y2="1103.3" stroke="#555" stroke-width="1.5"/>
<line x1="165.52" y1="1138" x2="165.52" y2="1131.5" stroke="#555" stroke-width="1.5"/>
<line x1="263.03" y1="1138" x2="263.03" y2="1131.5" stroke="#555" stroke-width="1.5"/>
<line x1="360.55" y1="1138" x2="360.55" y2="1131.5" stroke="#555" stroke-width="1.5"/>
<line x1="458.07" y1="1138" x2="458.07" y2="1131.5" stroke="#555" stroke-width="1.5"/>
<line x1="555.58" y1="1138" x2="555.58" y2="1131.5" stroke="#555" stroke-width="1.5"/>
<line x1="653.1" y1="1138" x2="653.1" y2="1131.5" stroke="#555" stroke-width="1.5"/>
<line x1="165" y1="993.7" x2="165" y2="1138" stroke="#000" stroke-width="4.6" stroke-dasharray="15 27.7" stroke-linecap="round" stroke-dashoffset="0"/>
<rect x="690.4" y="973.1" width="10.3" height="166.3" fill="url(#cb2)"/>
<text transform="translate(66.68,950.07) scale(0.3402,0.3298)" font-size="100" fill="#000" stroke="#000" stroke-width="0.85">Depth(m)</text>
<text transform="translate(360.9,973.56) scale(0.4202,0.4437)" font-size="100" fill="#000" stroke="#000" stroke-width="0.63">C5</text>
<ellipse cx="0" cy="0" rx="9.43" ry="10.07" fill="none" stroke="#000" stroke-width="2.56" transform="translate(695.1,946.65) skewX(-9)"/><line x1="695.1" y1="951.74" x2="703.29" y2="960.38" stroke="#000" stroke-width="2.56"/>
<text transform="translate(73.34,1011.67) scale(0.4114,0.3968)" font-size="100" font-weight="bold" fill="#000">(E)</text>
<text transform="translate(38.63,992.07) scale(0.3417,0.3310)" font-size="100" fill="#000" stroke="#000" stroke-width="0.85">0</text>
<text transform="translate(30.96,1051.66) scale(0.3358,0.3371)" font-size="100" fill="#000" stroke="#000" stroke-width="0.83">-5</text>
<text transform="translate(17.14,1116.77) scale(0.3409,0.3324)" font-size="100" fill="#000" stroke="#000" stroke-width="0.84">-10</text>
<text transform="translate(31.49,1171.63) scale(0.3139,0.3662)" font-size="100" fill="#000" stroke="#000" stroke-width="0.76">10:00</text>
<text transform="translate(123.45,1171.63) scale(0.3193,0.3662)" font-size="100" fill="#000" stroke="#000" stroke-width="0.76">14:00</text>
<text transform="translate(224.98,1172.63) scale(0.3151,0.3662)" font-size="100" fill="#000" stroke="#000" stroke-width="0.76">18:00</text>
<text transform="translate(316.38,1173.63) scale(0.3237,0.3662)" font-size="100" fill="#000" stroke="#000" stroke-width="0.76">22:00</text>
<text transform="translate(427.41,1174.63) scale(0.3172,0.3662)" font-size="100" fill="#000" stroke="#000" stroke-width="0.76">2:00</text>
<text transform="translate(525.93,1174.63) scale(0.3145,0.3662)" font-size="100" fill="#000" stroke="#000" stroke-width="0.76">6:00</text>
<text transform="translate(615.47,1174.94) scale(0.3168,0.3648)" font-size="100" fill="#000" stroke="#000" stroke-width="0.77">10:00</text>
<text transform="translate(709.25,988.36) scale(0.3434,0.3380)" font-size="100" fill="#000" stroke="#000" stroke-width="0.83">10</text>
<text transform="translate(709.14,1027.66) scale(0.3404,0.3429)" font-size="100" fill="#000" stroke="#000" stroke-width="0.82">5</text>
<text transform="translate(709.17,1068.66) scale(0.3333,0.3380)" font-size="100" fill="#000" stroke="#000" stroke-width="0.83">0</text>
<text transform="translate(708.59,1109.16) scale(0.3519,0.3429)" font-size="100" fill="#000" stroke="#000" stroke-width="0.82">-5</text>
<text transform="translate(708.63,1150.36) scale(0.3416,0.3380)" font-size="100" fill="#000" stroke="#000" stroke-width="0.83">-10</text>
<g clip-path="url(#clip3)">
<rect x="781.6" y="946.7" width="666.5" height="222.9" fill="#f6f3b9"/>
<g filter="url(#bblur3)">
<path d="M870,992 C880,990.67 908.33,984.33 930,984 C951.67,983.67 975,987 1000,990 C1025,993 1065,992 1080,1002 C1095,1012 1090,1035.33 1090,1050 C1090,1064.67 1088.33,1080 1080,1090 C1071.67,1100 1053.33,1109.17 1040,1110 C1026.67,1110.83 1013.33,1098.33 1000,1095 C986.67,1091.67 976.67,1090 960,1090 C943.33,1090 913.33,1098.33 900,1095 C886.67,1091.67 883.33,1074.17 880,1070 Z" fill="#f0bc7c" opacity="1"/>
</g>
<g filter="url(#blur3)">
<ellipse cx="821" cy="1042" rx="11" ry="30" fill="#f0c080" opacity="1"/>
</g>
<g filter="url(#bblur3)">
<ellipse cx="858" cy="1040" rx="18" ry="50" fill="#f8f5ba" opacity="1"/>
</g>
<g filter="url(#blur3)">
<ellipse cx="858" cy="1010" rx="14" ry="18" fill="#c5e2a6" opacity="1"/>
<ellipse cx="860" cy="1008" rx="6" ry="9" fill="#5e9eb0" opacity="1"/>
<ellipse cx="860" cy="1045" rx="4" ry="10" fill="#eeaa72" opacity="1"/>
<ellipse cx="886" cy="1040" rx="9" ry="26" fill="#eb9a68" opacity="1"/>
</g>
<g filter="url(#bblur3)">
<ellipse cx="957" cy="1052" rx="38" ry="36" fill="#e89a68" opacity="1"/>
</g>
<g filter="url(#blur3)">
<ellipse cx="932" cy="1045" rx="9" ry="20" fill="#e27850" opacity="1"/>
<ellipse cx="957" cy="1044" rx="8" ry="16" fill="#e07048" opacity="1"/>
<ellipse cx="981" cy="1050" rx="14" ry="32" fill="#e07048" opacity="1"/>
<ellipse cx="981" cy="1049" rx="7" ry="22" fill="#d04a36" opacity="1"/>
<ellipse cx="1030" cy="1055" rx="12" ry="30" fill="#eeac74" opacity="1"/>
<ellipse cx="1030" cy="1055" rx="5" ry="18" fill="#e58058" opacity="1"/>
<ellipse cx="1055" cy="1035" rx="4" ry="9" fill="#f5e8b0" opacity="1"/>
<ellipse cx="1079" cy="1038" rx="10" ry="18" fill="#f2c486" opacity="1"/>
<ellipse cx="1079" cy="1038" rx="4" ry="10" fill="#eba06c" opacity="1"/>
<ellipse cx="1054" cy="1095" rx="8" ry="25" fill="#efb878" opacity="1"/>
</g>
<g filter="url(#bblur3)">
<rect x="800" y="1100" width="260" height="50" fill="#f7f2b8" opacity="1"/>
</g>
<g filter="url(#blur3)">
<ellipse cx="850" cy="1125" rx="50" ry="15" fill="#e5efb0" opacity="1"/>
</g>
<g filter="url(#bblur3)">
<ellipse cx="1094" cy="1090" rx="20" ry="60" fill="#f8f6bc" opacity="1"/>
<ellipse cx="1147" cy="1048" rx="31" ry="58" fill="#f7e0a2" opacity="1"/>
</g>
<g filter="url(#blur3)">
<ellipse cx="1128" cy="1077" rx="12" ry="30" fill="#f2cc8c" opacity="1"/>
<ellipse cx="1128" cy="1077" rx="5" ry="15" fill="#eca474" opacity="1"/>
<ellipse cx="1175" cy="1040" rx="7" ry="50" fill="#f3d898" opacity="1"/>
<ellipse cx="1200" cy="1044" rx="10" ry="20" fill="#e3efb0" opacity="1"/>
<ellipse cx="1245" cy="1011" rx="6" ry="20" fill="#f0c888" opacity="1"/>
<ellipse cx="1225" cy="1081" rx="6" ry="15" fill="#cfe6a8" opacity="1"/>
<ellipse cx="1160" cy="1125" rx="50" ry="15" fill="#eef3b5" opacity="1"/>
</g>
<g filter="url(#bblur3)">
<path d="M1263,985 C1269.17,986.67 1287.17,990.83 1300,995 C1312.83,999.17 1332.5,999.17 1340,1010 C1347.5,1020.83 1345,1037.5 1345,1060 C1345,1082.5 1357.5,1130.83 1340,1145 C1322.5,1159.17 1254.17,1152.5 1240,1145 C1225.83,1137.5 1251.33,1117.5 1255,1100 C1258.67,1082.5 1260.83,1050 1262,1040 Z" fill="#b5d9a6" opacity="1"/>
</g>
<g filter="url(#blur3)">
<ellipse cx="1274" cy="1043" rx="12" ry="35" fill="#98c8a8" opacity="1"/>
<ellipse cx="1274" cy="1043" rx="6" ry="20" fill="#78b2aa" opacity="1"/>
<ellipse cx="1321" cy="1008" rx="14" ry="14" fill="#88bca8" opacity="1"/>
<ellipse cx="1321" cy="1006" rx="5" ry="6" fill="#4f82bc" opacity="1"/>
<ellipse cx="1297" cy="1098" rx="5" ry="10" fill="#d8eaab" opacity="1"/>
<ellipse cx="1321" cy="1097" rx="5" ry="10" fill="#e0eeb0" opacity="1"/>
<ellipse cx="1345" cy="1094" rx="5" ry="10" fill="#e3efb2" opacity="1"/>
<ellipse cx="1262" cy="1132" rx="14" ry="10" fill="#80b8a8" opacity="1"/>
<ellipse cx="1322" cy="1069" rx="4" ry="8" fill="#90c4a8" opacity="1"/>
<ellipse cx="1371" cy="1035" rx="6" ry="14" fill="#f2d094" opacity="1"/>
<ellipse cx="1394" cy="1031" rx="6" ry="14" fill="#efc180" opacity="1"/>
<ellipse cx="1415" cy="1043" rx="8" ry="25" fill="#f0c685" opacity="1"/>
<ellipse cx="1393" cy="1077" rx="8" ry="25" fill="#dfedae" opacity="1"/>
</g>
</g>
<path d="M811.6,976.7 V1139.6 H1418.1" fill="none" stroke="#555" stroke-width="1.7"/>
<line x1="811.6" y1="976.7" x2="819.1" y2="976.7" stroke="#555" stroke-width="1.5"/>
<line x1="811.6" y1="1017.7" x2="819.1" y2="1017.7" stroke="#555" stroke-width="1.5"/>
<line x1="811.6" y1="1058.3" x2="819.1" y2="1058.3" stroke="#555" stroke-width="1.5"/>
<line x1="811.6" y1="1099.4" x2="819.1" y2="1099.4" stroke="#555" stroke-width="1.5"/>
<line x1="908.67" y1="1139.6" x2="908.67" y2="1133.1" stroke="#555" stroke-width="1.5"/>
<line x1="1005.73" y1="1139.6" x2="1005.73" y2="1133.1" stroke="#555" stroke-width="1.5"/>
<line x1="1102.8" y1="1139.6" x2="1102.8" y2="1133.1" stroke="#555" stroke-width="1.5"/>
<line x1="1199.87" y1="1139.6" x2="1199.87" y2="1133.1" stroke="#555" stroke-width="1.5"/>
<line x1="1296.93" y1="1139.6" x2="1296.93" y2="1133.1" stroke="#555" stroke-width="1.5"/>
<line x1="1394" y1="1139.6" x2="1394" y2="1133.1" stroke="#555" stroke-width="1.5"/>
<line x1="908.4" y1="996" x2="908.4" y2="1139.6" stroke="#000" stroke-width="4.6" stroke-dasharray="15 27.7" stroke-linecap="round" stroke-dashoffset="0"/>
<rect x="1430" y="979" width="9.1" height="158.3" fill="url(#cb3)"/>
<text transform="translate(823.28,951.01) scale(0.3400,0.3330)" font-size="100" fill="#000" stroke="#000" stroke-width="0.84">Depth(m)</text>
<text transform="translate(1104.88,973.56) scale(0.4237,0.4437)" font-size="100" fill="#000" stroke="#000" stroke-width="0.63">C9</text>
<ellipse cx="0" cy="0" rx="9.69" ry="10.27" fill="none" stroke="#000" stroke-width="2.61" transform="translate(1434.3,958.27) skewX(-9)"/><line x1="1434.3" y1="963.46" x2="1442.7" y2="972.26" stroke="#000" stroke-width="2.61"/>
<text transform="translate(831.91,1011.67) scale(0.4186,0.3968)" font-size="100" font-weight="bold" fill="#000">(F)</text>
<text transform="translate(786.07,991.69) scale(0.3333,0.3099)" font-size="100" fill="#000" stroke="#000" stroke-width="0.90">0</text>
<text transform="translate(776,1030) scale(0.3500,0.3143)" font-size="100" fill="#000" stroke="#000" stroke-width="0.89">-2</text>
<text transform="translate(776.07,1070.32) scale(0.3329,0.3235)" font-size="100" fill="#000" stroke="#000" stroke-width="0.87">-4</text>
<text transform="translate(775.3,1111.69) scale(0.3500,0.3099)" font-size="100" fill="#000" stroke="#000" stroke-width="0.90">-6</text>
<text transform="translate(774.87,1174.33) scale(0.3164,0.3662)" font-size="100" fill="#000" stroke="#000" stroke-width="0.76">10:00</text>
<text transform="translate(866.96,1174.33) scale(0.3172,0.3662)" font-size="100" fill="#000" stroke="#000" stroke-width="0.76">14:00</text>
<text transform="translate(967.48,1175.13) scale(0.3151,0.3662)" font-size="100" fill="#000" stroke="#000" stroke-width="0.76">18:00</text>
<text transform="translate(1061.38,1175.63) scale(0.3237,0.3662)" font-size="100" fill="#000" stroke="#000" stroke-width="0.76">22:00</text>
<text transform="translate(1171.41,1176.63) scale(0.3172,0.3662)" font-size="100" fill="#000" stroke="#000" stroke-width="0.76">2:00</text>
<text transform="translate(1268.41,1176.63) scale(0.3172,0.3662)" font-size="100" fill="#000" stroke="#000" stroke-width="0.76">6:00</text>
<text transform="translate(1359.17,1178.43) scale(0.3164,0.3676)" font-size="100" fill="#000" stroke="#000" stroke-width="0.76">10:00</text>
<text transform="translate(1447.6,992.97) scale(0.3374,0.3282)" font-size="100" fill="#000" stroke="#000" stroke-width="0.85">10</text>
<text transform="translate(1447.64,1031.67) scale(0.3404,0.3329)" font-size="100" fill="#000" stroke="#000" stroke-width="0.84">5</text>
<text transform="translate(1447.67,1071.18) scale(0.3333,0.3169)" font-size="100" fill="#000" stroke="#000" stroke-width="0.88">0</text>
<text transform="translate(1446.93,1109.57) scale(0.3420,0.3343)" font-size="100" fill="#000" stroke="#000" stroke-width="0.84">-5</text>
<text transform="translate(1447.05,1149.07) scale(0.3365,0.3296)" font-size="100" fill="#000" stroke="#000" stroke-width="0.85">-10</text>
<path d="M164.4,359.6 V815.2" stroke="#555" stroke-width="1.45" fill="none"/>
<path d="M164.4,359.6 H620.2" stroke="#555" stroke-width="1.45" fill="none"/>
<path d="M164.4,815.2 H620.2" stroke="#555" stroke-width="1.45" fill="none"/>
<line x1="148.9" y1="359.6" x2="164.4" y2="359.6" stroke="#555" stroke-width="1.35"/>
<line x1="156.9" y1="420.32" x2="164.4" y2="420.32" stroke="#555" stroke-width="1.35"/>
<line x1="148.9" y1="481.03" x2="164.4" y2="481.03" stroke="#555" stroke-width="1.35"/>
<line x1="156.9" y1="541.75" x2="164.4" y2="541.75" stroke="#555" stroke-width="1.35"/>
<line x1="148.9" y1="602.47" x2="164.4" y2="602.47" stroke="#555" stroke-width="1.35"/>
<line x1="156.9" y1="663.18" x2="164.4" y2="663.18" stroke="#555" stroke-width="1.35"/>
<line x1="148.9" y1="723.9" x2="164.4" y2="723.9" stroke="#555" stroke-width="1.35"/>
<line x1="156.9" y1="784.62" x2="164.4" y2="784.62" stroke="#555" stroke-width="1.35"/>
<line x1="164.4" y1="344.6" x2="164.4" y2="359.6" stroke="#555" stroke-width="1.35"/>
<line x1="209.98" y1="352.1" x2="209.98" y2="359.6" stroke="#555" stroke-width="1.35"/>
<line x1="255.56" y1="344.6" x2="255.56" y2="359.6" stroke="#555" stroke-width="1.35"/>
<line x1="301.14" y1="352.1" x2="301.14" y2="359.6" stroke="#555" stroke-width="1.35"/>
<line x1="346.72" y1="344.6" x2="346.72" y2="359.6" stroke="#555" stroke-width="1.35"/>
<line x1="392.3" y1="352.1" x2="392.3" y2="359.6" stroke="#555" stroke-width="1.35"/>
<line x1="437.88" y1="344.6" x2="437.88" y2="359.6" stroke="#555" stroke-width="1.35"/>
<line x1="483.46" y1="352.1" x2="483.46" y2="359.6" stroke="#555" stroke-width="1.35"/>
<line x1="529.04" y1="344.6" x2="529.04" y2="359.6" stroke="#555" stroke-width="1.35"/>
<line x1="574.62" y1="352.1" x2="574.62" y2="359.6" stroke="#555" stroke-width="1.35"/>
<line x1="620.2" y1="344.6" x2="620.2" y2="359.6" stroke="#555" stroke-width="1.35"/>
<line x1="164.4" y1="815.2" x2="164.4" y2="830.2" stroke="#555" stroke-width="1.35"/>
<line x1="209.98" y1="815.2" x2="209.98" y2="822.7" stroke="#555" stroke-width="1.35"/>
<line x1="255.56" y1="815.2" x2="255.56" y2="830.2" stroke="#555" stroke-width="1.35"/>
<line x1="301.14" y1="815.2" x2="301.14" y2="822.7" stroke="#555" stroke-width="1.35"/>
<line x1="346.72" y1="815.2" x2="346.72" y2="830.2" stroke="#555" stroke-width="1.35"/>
<line x1="392.3" y1="815.2" x2="392.3" y2="822.7" stroke="#555" stroke-width="1.35"/>
<line x1="437.88" y1="815.2" x2="437.88" y2="830.2" stroke="#555" stroke-width="1.35"/>
<line x1="483.46" y1="815.2" x2="483.46" y2="822.7" stroke="#555" stroke-width="1.35"/>
<line x1="529.04" y1="815.2" x2="529.04" y2="830.2" stroke="#555" stroke-width="1.35"/>
<line x1="574.62" y1="815.2" x2="574.62" y2="822.7" stroke="#555" stroke-width="1.35"/>
<line x1="620.2" y1="815.2" x2="620.2" y2="830.2" stroke="#555" stroke-width="1.35"/>
<path d="M246.6,383.3 C248.73,387.32 254.17,398.5 259.4,407.4 C264.63,416.3 270.9,427.82 278,436.7 C285.1,445.58 292.65,452.7 302,460.7 C311.35,468.7 321.63,476.68 334.1,484.7 C346.57,492.72 363.02,501.23 376.8,508.8 C390.58,516.37 406.57,523.88 416.8,530.1 C427.03,536.32 431.53,540.12 438.2,546.1 C444.87,552.08 451.47,557.78 456.8,566 C462.13,574.22 466.85,584.73 470.2,595.4 C473.55,606.07 475.12,618.88 476.9,630 C478.68,641.12 479.35,651.87 480.9,662.1 C482.45,672.33 483.1,680.73 486.2,691.4 C489.3,702.07 493.27,714.98 499.5,726.1 C505.73,737.22 514.48,746.53 523.6,758.1 C532.72,769.67 549.1,789.27 554.2,795.5" fill="none" stroke="#dc00f2" stroke-width="4.3" stroke-linecap="round" stroke-linejoin="round"/>
<path d="M563.6,389.2 C554.7,390.45 528,393.45 510.2,396.7 C492.4,399.95 474.58,404.92 456.8,408.7 C439.02,412.48 421.28,416.28 403.5,419.4 C385.72,422.52 367.9,424.97 350.1,427.4 C332.3,429.83 310.05,432 296.7,434 C283.35,436 278.88,436.73 270,439.4 C261.12,442.07 250.95,445.57 243.4,450 C235.85,454.43 229.6,460.22 224.7,466 C219.8,471.78 216.9,477.57 214,484.7 C211.1,491.83 208.85,500.35 207.3,508.8 C205.75,517.25 205.27,526.87 204.7,535.4 C204.13,543.93 203.6,548.67 203.9,560 C204.2,571.33 205.48,589.5 206.5,603.4 C207.52,617.3 209.28,630.07 210,643.4 C210.72,656.73 210.93,665.62 210.8,683.4 C210.67,701.18 209.73,731.63 209.2,750.1 C208.67,768.57 207.87,786.85 207.6,794.2" fill="none" stroke="#d40000" stroke-width="4.5" stroke-linecap="round" stroke-linejoin="round"/>
<text transform="translate(167.91,398.51) scale(0.4186,0.4043)" font-size="100" font-weight="bold" fill="#000">(C)</text>
<text transform="translate(328.84,789.88) scale(0.3197,0.3197)" font-size="100" fill="#000" stroke="#000" stroke-width="0.88">14:00</text>
<text transform="translate(317.09,293.69) scale(0.3625,0.3574)" font-size="100" fill="#000" stroke="#000" stroke-width="0.78">SSC(mg/L)</text>
<text transform="translate(157.01,329.72) scale(0.2817,0.2817)" font-size="100" fill="#000" stroke="#000" stroke-width="0.99">0</text>
<text transform="translate(247.97,330.29) scale(0.2941,0.2941)" font-size="100" fill="#000" stroke="#000" stroke-width="0.95">4</text>
<text transform="translate(339.47,329.72) scale(0.2817,0.2817)" font-size="100" fill="#000" stroke="#000" stroke-width="0.99">8</text>
<text transform="translate(422.09,330) scale(0.2857,0.2857)" font-size="100" fill="#000" stroke="#000" stroke-width="0.98">12</text>
<text transform="translate(513.34,329.72) scale(0.2817,0.2817)" font-size="100" fill="#000" stroke="#000" stroke-width="0.99">16</text>
<text transform="translate(604.93,329.72) scale(0.2817,0.2817)" font-size="100" fill="#000" stroke="#000" stroke-width="0.99">20</text>
<text transform="translate(135.98,863.71) scale(0.2901,0.2901)" font-size="100" fill="#000" stroke="#000" stroke-width="0.97">10.8</text>
<text transform="translate(227.9,864) scale(0.2943,0.2943)" font-size="100" fill="#000" stroke="#000" stroke-width="0.95">11.2</text>
<text transform="translate(319.31,863.71) scale(0.2901,0.2901)" font-size="100" fill="#000" stroke="#000" stroke-width="0.97">11.6</text>
<text transform="translate(421.41,864) scale(0.2943,0.2943)" font-size="100" fill="#000" stroke="#000" stroke-width="0.95">12</text>
<text transform="translate(499.91,864) scale(0.2943,0.2943)" font-size="100" fill="#000" stroke="#000" stroke-width="0.95">12.4</text>
<text transform="translate(591.78,863.71) scale(0.2901,0.2901)" font-size="100" fill="#000" stroke="#000" stroke-width="0.97">12.8</text>
<text transform="translate(124.62,369.8) scale(0.2958,0.2958)" font-size="100" fill="#000" stroke="#000" stroke-width="0.95">0</text>
<text transform="translate(113.44,491.84) scale(0.3088,0.3088)" font-size="100" fill="#000" stroke="#000" stroke-width="0.91">-4</text>
<text transform="translate(115.15,612.67) scale(0.2958,0.2958)" font-size="100" fill="#000" stroke="#000" stroke-width="0.95">-8</text>
<text transform="translate(98,734.4) scale(0.3000,0.3000)" font-size="100" fill="#000" stroke="#000" stroke-width="0.93">-12</text>
<text transform="translate(105.26,658.26) rotate(-90) scale(0.3575,0.3543)" font-size="100" fill="#000" stroke="#000" stroke-width="0.79">Depth</text>
<text transform="translate(105.4,545.5) rotate(-90) scale(0.3143,0.3352)" font-size="100" fill="#000" stroke="#000" stroke-width="0.84">m</text>
<path d="M78,548.7 Q93,563.3 108,548.7" fill="none" stroke="#000" stroke-width="2.3"/>
<path d="M78,514.7 Q92.4,499.9 108,514.7" fill="none" stroke="#000" stroke-width="2.3"/>
<text transform="translate(260.29,906.94) scale(0.3568,0.3759)" font-size="100" fill="#000" stroke="#000" stroke-width="0.74">Temperature</text>
<text transform="translate(458.69,906.82) scale(0.3846,0.3537)" font-size="100" fill="#000" stroke="#000" stroke-width="0.79">(</text>
<text transform="translate(514.65,906.82) scale(0.3462,0.3537)" font-size="100" fill="#000" stroke="#000" stroke-width="0.79">)</text>
<path d="M507.26,885.08 A11.8,12.98 0 1 0 507.26,905.52" fill="none" stroke="#000" stroke-width="1.7"/>
<path d="M507.26,883.58 V889.58" fill="none" stroke="#000" stroke-width="1.3"/>
<circle cx="484" cy="885.6" r="3.4" fill="none" stroke="#000" stroke-width="1.2"/>
<path d="M931.9,366.3 V817.2" stroke="#555" stroke-width="1.45" fill="none"/>
<path d="M931.9,366.3 H1383.6" stroke="#555" stroke-width="1.45" fill="none"/>
<path d="M931.9,817.2 H1381.5" stroke="#555" stroke-width="1.45" fill="none"/>
<line x1="916.4" y1="367.6" x2="931.9" y2="367.6" stroke="#555" stroke-width="1.35"/>
<line x1="924.4" y1="453.1" x2="931.9" y2="453.1" stroke="#555" stroke-width="1.35"/>
<line x1="916.4" y1="538.6" x2="931.9" y2="538.6" stroke="#555" stroke-width="1.35"/>
<line x1="924.4" y1="624.1" x2="931.9" y2="624.1" stroke="#555" stroke-width="1.35"/>
<line x1="916.4" y1="709.6" x2="931.9" y2="709.6" stroke="#555" stroke-width="1.35"/>
<line x1="924.4" y1="795.1" x2="931.9" y2="795.1" stroke="#555" stroke-width="1.35"/>
<line x1="934" y1="351.3" x2="934" y2="366.3" stroke="#555" stroke-width="1.35"/>
<line x1="978.96" y1="358.8" x2="978.96" y2="366.3" stroke="#555" stroke-width="1.35"/>
<line x1="1023.92" y1="351.3" x2="1023.92" y2="366.3" stroke="#555" stroke-width="1.35"/>
<line x1="1068.88" y1="358.8" x2="1068.88" y2="366.3" stroke="#555" stroke-width="1.35"/>
<line x1="1113.84" y1="351.3" x2="1113.84" y2="366.3" stroke="#555" stroke-width="1.35"/>
<line x1="1158.8" y1="358.8" x2="1158.8" y2="366.3" stroke="#555" stroke-width="1.35"/>
<line x1="1203.76" y1="351.3" x2="1203.76" y2="366.3" stroke="#555" stroke-width="1.35"/>
<line x1="1248.72" y1="358.8" x2="1248.72" y2="366.3" stroke="#555" stroke-width="1.35"/>
<line x1="1293.68" y1="351.3" x2="1293.68" y2="366.3" stroke="#555" stroke-width="1.35"/>
<line x1="1338.64" y1="358.8" x2="1338.64" y2="366.3" stroke="#555" stroke-width="1.35"/>
<line x1="1383.6" y1="351.3" x2="1383.6" y2="366.3" stroke="#555" stroke-width="1.35"/>
<line x1="931.9" y1="817.2" x2="931.9" y2="832.2" stroke="#555" stroke-width="1.35"/>
<line x1="976.86" y1="817.2" x2="976.86" y2="824.7" stroke="#555" stroke-width="1.35"/>
<line x1="1021.82" y1="817.2" x2="1021.82" y2="832.2" stroke="#555" stroke-width="1.35"/>
<line x1="1066.78" y1="817.2" x2="1066.78" y2="824.7" stroke="#555" stroke-width="1.35"/>
<line x1="1111.74" y1="817.2" x2="1111.74" y2="832.2" stroke="#555" stroke-width="1.35"/>
<line x1="1156.7" y1="817.2" x2="1156.7" y2="824.7" stroke="#555" stroke-width="1.35"/>
<line x1="1201.66" y1="817.2" x2="1201.66" y2="832.2" stroke="#555" stroke-width="1.35"/>
<line x1="1246.62" y1="817.2" x2="1246.62" y2="824.7" stroke="#555" stroke-width="1.35"/>
<line x1="1291.58" y1="817.2" x2="1291.58" y2="832.2" stroke="#555" stroke-width="1.35"/>
<line x1="1336.54" y1="817.2" x2="1336.54" y2="824.7" stroke="#555" stroke-width="1.35"/>
<line x1="1381.5" y1="817.2" x2="1381.5" y2="832.2" stroke="#555" stroke-width="1.35"/>
<path d="M1077.2,392.8 C1078.57,396.67 1083.12,408.48 1085.4,416 C1087.68,423.52 1089.53,430.15 1090.9,437.9 C1092.27,445.65 1093.37,453.83 1093.6,462.5 C1093.83,471.17 1092.75,481.68 1092.3,489.9 C1091.85,498.12 1090.22,504.52 1090.9,511.8 C1091.58,519.08 1092.75,527.68 1096.4,533.6 C1100.05,539.52 1103.23,542.73 1112.8,547.3 C1122.37,551.87 1142.4,557.05 1153.8,561 C1165.2,564.95 1172.08,567.52 1181.2,571 C1190.32,574.48 1200.75,577.35 1208.5,581.9 C1216.25,586.45 1222.23,591.92 1227.7,598.3 C1233.17,604.68 1237.2,610.63 1241.3,620.2 C1245.4,629.77 1249.1,642.03 1252.3,655.7 C1255.5,669.37 1257.53,687.15 1260.5,702.2 C1263.47,717.25 1267.13,728.22 1270.1,746 C1273.07,763.78 1276.93,798.42 1278.3,808.9" fill="none" stroke="#dc00f2" stroke-width="4.3" stroke-linecap="round" stroke-linejoin="round"/>
<path d="M1331.6,384.6 C1324.77,386.42 1306.55,391.63 1290.6,395.5 C1274.65,399.37 1254.13,404.38 1235.9,407.8 C1217.67,411.22 1199.43,413.72 1181.2,416 C1162.97,418.28 1144.73,419.67 1126.5,421.5 C1108.27,423.33 1086.38,425.4 1071.8,427 C1057.22,428.6 1048.13,428.83 1039,431.1 C1029.87,433.37 1023.4,436.28 1017,440.6 C1010.6,444.92 1004.92,449.7 1000.6,457 C996.28,464.3 993.15,474.37 991.1,484.4 C989.05,494.43 988.08,504.6 988.3,517.2 C988.52,529.8 991.35,548.3 992.4,560 C993.45,571.7 995.28,578.28 994.6,587.4 C993.92,596.52 992.3,608.1 988.3,614.7 C984.3,621.3 976.75,623.12 970.6,627 C964.45,630.88 955.6,633.22 951.4,638 C947.2,642.78 946.08,648.18 945.4,655.7 C944.72,663.22 946.53,673.98 947.3,683.1 C948.07,692.22 949.68,699 950,710.4 C950.32,721.8 949.52,734.63 949.2,751.5 C948.88,768.37 948.28,801.58 948.1,811.6" fill="none" stroke="#d40000" stroke-width="4.5" stroke-linecap="round" stroke-linejoin="round"/>
<text transform="translate(937.45,407.22) scale(0.4295,0.4085)" font-size="100" font-weight="bold" fill="#000">(D)</text>
<text transform="translate(1082.59,801.75) scale(0.3508,0.3465)" font-size="100" fill="#000" stroke="#000" stroke-width="0.81">14:00</text>
<text transform="translate(1075.51,284.81) scale(0.3573,0.3426)" font-size="100" fill="#000" stroke="#000" stroke-width="0.82">SSC(mg/L)</text>
<text transform="translate(926.45,336.91) scale(0.2873,0.2873)" font-size="100" fill="#000" stroke="#000" stroke-width="0.97">6</text>
<text transform="translate(1016.02,337.5) scale(0.3000,0.3000)" font-size="100" fill="#000" stroke="#000" stroke-width="0.93">7</text>
<text transform="translate(1106.44,336.91) scale(0.2873,0.2873)" font-size="100" fill="#000" stroke="#000" stroke-width="0.97">8</text>
<text transform="translate(1196.21,336.91) scale(0.2873,0.2873)" font-size="100" fill="#000" stroke="#000" stroke-width="0.97">9</text>
<text transform="translate(1277.66,336.91) scale(0.2873,0.2873)" font-size="100" fill="#000" stroke="#000" stroke-width="0.97">10</text>
<text transform="translate(1368.28,337.2) scale(0.2957,0.2957)" font-size="100" fill="#000" stroke="#000" stroke-width="0.95">11</text>
<text transform="translate(904.37,866.5) scale(0.2899,0.2899)" font-size="100" fill="#000" stroke="#000" stroke-width="0.97">11.4</text>
<text transform="translate(995.22,866.22) scale(0.2817,0.2817)" font-size="100" fill="#000" stroke="#000" stroke-width="0.99">11.6</text>
<text transform="translate(1085.14,866.22) scale(0.2817,0.2817)" font-size="100" fill="#000" stroke="#000" stroke-width="0.99">11.8</text>
<text transform="translate(1185.67,866.5) scale(0.2857,0.2857)" font-size="100" fill="#000" stroke="#000" stroke-width="0.98">12</text>
<text transform="translate(1263.59,866.5) scale(0.2857,0.2857)" font-size="100" fill="#000" stroke="#000" stroke-width="0.98">12.2</text>
<text transform="translate(1353.23,866.5) scale(0.2857,0.2857)" font-size="100" fill="#000" stroke="#000" stroke-width="0.98">12.4</text>
<text transform="translate(892.85,377.32) scale(0.2817,0.2817)" font-size="100" fill="#000" stroke="#000" stroke-width="0.99">0</text>
<text transform="translate(882.21,548.89) scale(0.2941,0.2941)" font-size="100" fill="#000" stroke="#000" stroke-width="0.95">-4</text>
<text transform="translate(883.84,719.32) scale(0.2817,0.2817)" font-size="100" fill="#000" stroke="#000" stroke-width="0.99">-8</text>
<text transform="translate(868.56,647.56) rotate(-90) scale(0.3575,0.3543)" font-size="100" fill="#000" stroke="#000" stroke-width="0.79">Depth</text>
<text transform="translate(868.7,534.8) rotate(-90) scale(0.3143,0.3352)" font-size="100" fill="#000" stroke="#000" stroke-width="0.84">m</text>
<path d="M841.3,538 Q856.3,552.6 871.3,538" fill="none" stroke="#000" stroke-width="2.3"/>
<path d="M841.3,504 Q855.7,489.2 871.3,504" fill="none" stroke="#000" stroke-width="2.3"/>
<text transform="translate(1019.7,906.98) scale(0.3523,0.3519)" font-size="100" fill="#000" stroke="#000" stroke-width="0.80">Temperature</text>
<text transform="translate(1215.61,906.87) scale(0.3798,0.3311)" font-size="100" fill="#000" stroke="#000" stroke-width="0.85">(</text>
<text transform="translate(1270.87,906.87) scale(0.3418,0.3311)" font-size="100" fill="#000" stroke="#000" stroke-width="0.85">)</text>
<path d="M1263.57,886.58 A11.65,12.15 0 1 0 1263.57,905.72" fill="none" stroke="#000" stroke-width="1.7"/>
<path d="M1263.57,885.08 V891.08" fill="none" stroke="#000" stroke-width="1.3"/>
<circle cx="1240.6" cy="887.3" r="3.36" fill="none" stroke="#000" stroke-width="1.2"/>
<path d="M188,1288.2 V1748.5" stroke="#555" stroke-width="1.45" fill="none"/>
<path d="M188,1288.2 H647.9" stroke="#555" stroke-width="1.45" fill="none"/>
<path d="M188,1748.5 H647.9" stroke="#555" stroke-width="1.45" fill="none"/>
<line x1="172.5" y1="1288.2" x2="188" y2="1288.2" stroke="#555" stroke-width="1.35"/>
<line x1="180.5" y1="1345.74" x2="188" y2="1345.74" stroke="#555" stroke-width="1.35"/>
<line x1="172.5" y1="1403.28" x2="188" y2="1403.28" stroke="#555" stroke-width="1.35"/>
<line x1="180.5" y1="1460.81" x2="188" y2="1460.81" stroke="#555" stroke-width="1.35"/>
<line x1="172.5" y1="1518.35" x2="188" y2="1518.35" stroke="#555" stroke-width="1.35"/>
<line x1="180.5" y1="1575.89" x2="188" y2="1575.89" stroke="#555" stroke-width="1.35"/>
<line x1="172.5" y1="1633.42" x2="188" y2="1633.42" stroke="#555" stroke-width="1.35"/>
<line x1="180.5" y1="1690.96" x2="188" y2="1690.96" stroke="#555" stroke-width="1.35"/>
<line x1="172.5" y1="1748.5" x2="188" y2="1748.5" stroke="#555" stroke-width="1.35"/>
<line x1="188" y1="1273.2" x2="188" y2="1288.2" stroke="#555" stroke-width="1.35"/>
<line x1="233.99" y1="1280.7" x2="233.99" y2="1288.2" stroke="#555" stroke-width="1.35"/>
<line x1="279.98" y1="1273.2" x2="279.98" y2="1288.2" stroke="#555" stroke-width="1.35"/>
<line x1="325.97" y1="1280.7" x2="325.97" y2="1288.2" stroke="#555" stroke-width="1.35"/>
<line x1="371.96" y1="1273.2" x2="371.96" y2="1288.2" stroke="#555" stroke-width="1.35"/>
<line x1="417.95" y1="1280.7" x2="417.95" y2="1288.2" stroke="#555" stroke-width="1.35"/>
<line x1="463.94" y1="1273.2" x2="463.94" y2="1288.2" stroke="#555" stroke-width="1.35"/>
<line x1="509.93" y1="1280.7" x2="509.93" y2="1288.2" stroke="#555" stroke-width="1.35"/>
<line x1="555.92" y1="1273.2" x2="555.92" y2="1288.2" stroke="#555" stroke-width="1.35"/>
<line x1="601.91" y1="1280.7" x2="601.91" y2="1288.2" stroke="#555" stroke-width="1.35"/>
<line x1="647.9" y1="1273.2" x2="647.9" y2="1288.2" stroke="#555" stroke-width="1.35"/>
<line x1="188" y1="1748.5" x2="188" y2="1763.5" stroke="#555" stroke-width="1.35"/>
<line x1="226.32" y1="1748.5" x2="226.32" y2="1756" stroke="#555" stroke-width="1.35"/>
<line x1="264.65" y1="1748.5" x2="264.65" y2="1763.5" stroke="#555" stroke-width="1.35"/>
<line x1="302.97" y1="1748.5" x2="302.97" y2="1756" stroke="#555" stroke-width="1.35"/>
<line x1="341.3" y1="1748.5" x2="341.3" y2="1763.5" stroke="#555" stroke-width="1.35"/>
<line x1="379.62" y1="1748.5" x2="379.62" y2="1756" stroke="#555" stroke-width="1.35"/>
<line x1="417.95" y1="1748.5" x2="417.95" y2="1763.5" stroke="#555" stroke-width="1.35"/>
<line x1="456.27" y1="1748.5" x2="456.27" y2="1756" stroke="#555" stroke-width="1.35"/>
<line x1="494.6" y1="1748.5" x2="494.6" y2="1763.5" stroke="#555" stroke-width="1.35"/>
<line x1="532.92" y1="1748.5" x2="532.92" y2="1756" stroke="#555" stroke-width="1.35"/>
<line x1="571.25" y1="1748.5" x2="571.25" y2="1763.5" stroke="#555" stroke-width="1.35"/>
<line x1="609.58" y1="1748.5" x2="609.58" y2="1756" stroke="#555" stroke-width="1.35"/>
<line x1="647.9" y1="1748.5" x2="647.9" y2="1763.5" stroke="#555" stroke-width="1.35"/>
<path d="M220.8,1317.3 C222.67,1321.08 226.57,1330.88 232,1340 C237.43,1349.12 245.4,1362.67 253.4,1372 C261.4,1381.33 270.23,1389.77 280,1396 C289.77,1402.23 298.65,1406.28 312,1409.4 C325.35,1412.52 343.18,1413.5 360.1,1414.7 C377.02,1415.9 400.15,1415.27 413.5,1416.6 C426.85,1417.93 433.08,1419.9 440.2,1422.7 C447.32,1425.5 451.77,1428.05 456.2,1433.4 C460.63,1438.75 463.92,1446.78 466.8,1454.8 C469.68,1462.82 471.72,1474.17 473.5,1481.5 C475.28,1488.83 476.17,1490.72 477.5,1498.8 C478.83,1506.88 478.83,1518.13 481.5,1530 C484.17,1541.87 488.38,1555.77 493.5,1570 C498.62,1584.23 506.85,1599.82 512.2,1615.4 C517.55,1630.98 521.37,1642.37 525.6,1663.5 C529.83,1684.63 535.6,1729.08 537.6,1742.2" fill="none" stroke="#dc00f2" stroke-width="4.3" stroke-linecap="round" stroke-linejoin="round"/>
<path d="M575.7,1338.2 C570.9,1341.62 558.37,1350.83 546.9,1358.7 C535.43,1366.57 520.25,1377.83 506.9,1385.4 C493.55,1392.97 480.15,1399.43 466.8,1404.1 C453.45,1408.77 440.13,1410.73 426.8,1413.4 C413.47,1416.07 400.13,1417.43 386.8,1420.1 C373.47,1422.77 358.82,1425.4 346.8,1429.4 C334.78,1433.4 323.6,1438.1 314.7,1444.1 C305.8,1450.1 298.95,1457.75 293.4,1465.4 C287.85,1473.05 285.4,1479.23 281.4,1490 C277.4,1500.77 272.73,1515.33 269.4,1530 C266.07,1544.67 262.97,1562.43 261.4,1578 C259.83,1593.57 259.92,1606.93 260,1623.4 C260.08,1639.87 261.23,1657 261.9,1676.8 C262.57,1696.6 263.65,1731.3 264,1742.2" fill="none" stroke="#d40000" stroke-width="4.5" stroke-linecap="round" stroke-linejoin="round"/>
<text transform="translate(192.64,1325.67) scale(0.4127,0.3968)" font-size="100" font-weight="bold" fill="#000">(G)</text>
<text transform="translate(350.57,1736.44) scale(0.3534,0.3563)" font-size="100" fill="#000" stroke="#000" stroke-width="0.79">14:00</text>
<text transform="translate(332.87,1218.65) scale(0.3654,0.3596)" font-size="100" fill="#000" stroke="#000" stroke-width="0.78">SSC(mg/L)</text>
<text transform="translate(180.61,1258.79) scale(0.2868,0.2868)" font-size="100" fill="#000" stroke="#000" stroke-width="0.98">4</text>
<text transform="translate(272.82,1258.22) scale(0.2786,0.2786)" font-size="100" fill="#000" stroke="#000" stroke-width="1.01">5</text>
<text transform="translate(364.77,1258.23) scale(0.2746,0.2746)" font-size="100" fill="#000" stroke="#000" stroke-width="1.02">6</text>
<text transform="translate(456.41,1258.79) scale(0.2868,0.2868)" font-size="100" fill="#000" stroke="#000" stroke-width="0.98">7</text>
<text transform="translate(548.87,1258.23) scale(0.2746,0.2746)" font-size="100" fill="#000" stroke="#000" stroke-width="1.02">8</text>
<text transform="translate(640.71,1258.23) scale(0.2746,0.2746)" font-size="100" fill="#000" stroke="#000" stroke-width="1.02">9</text>
<text transform="translate(172.41,1798) scale(0.2971,0.2971)" font-size="100" fill="#000" stroke="#000" stroke-width="0.94">11</text>
<text transform="translate(236.98,1797.71) scale(0.2929,0.2929)" font-size="100" fill="#000" stroke="#000" stroke-width="0.96">11.5</text>
<text transform="translate(324.91,1798) scale(0.2929,0.2929)" font-size="100" fill="#000" stroke="#000" stroke-width="0.96">12</text>
<text transform="translate(389.67,1797.71) scale(0.2887,0.2887)" font-size="100" fill="#000" stroke="#000" stroke-width="0.97">12.5</text>
<text transform="translate(478.3,1797.71) scale(0.2887,0.2887)" font-size="100" fill="#000" stroke="#000" stroke-width="0.97">13</text>
<text transform="translate(542.97,1797.71) scale(0.2887,0.2887)" font-size="100" fill="#000" stroke="#000" stroke-width="0.97">13.5</text>
<text transform="translate(630.97,1798) scale(0.2971,0.2971)" font-size="100" fill="#000" stroke="#000" stroke-width="0.94">14</text>
<text transform="translate(148.85,1297.92) scale(0.2817,0.2817)" font-size="100" fill="#000" stroke="#000" stroke-width="0.99">0</text>
<text transform="translate(139.5,1413.28) scale(0.2857,0.2857)" font-size="100" fill="#000" stroke="#000" stroke-width="0.98">-2</text>
<text transform="translate(138.21,1528.64) scale(0.2941,0.2941)" font-size="100" fill="#000" stroke="#000" stroke-width="0.95">-4</text>
<text transform="translate(139.84,1643.14) scale(0.2817,0.2817)" font-size="100" fill="#000" stroke="#000" stroke-width="0.99">-6</text>
<text transform="translate(139.84,1758.22) scale(0.2817,0.2817)" font-size="100" fill="#000" stroke="#000" stroke-width="0.99">-8</text>
<text transform="translate(120.06,1588.26) rotate(-90) scale(0.3575,0.3543)" font-size="100" fill="#000" stroke="#000" stroke-width="0.79">Depth</text>
<text transform="translate(120.2,1475.5) rotate(-90) scale(0.3143,0.3352)" font-size="100" fill="#000" stroke="#000" stroke-width="0.84">m</text>
<path d="M92.8,1478.7 Q107.8,1493.3 122.8,1478.7" fill="none" stroke="#000" stroke-width="2.3"/>
<path d="M92.8,1444.7 Q107.2,1429.9 122.8,1444.7" fill="none" stroke="#000" stroke-width="2.3"/>
<text transform="translate(276.68,1838.1) scale(0.3584,0.3392)" font-size="100" fill="#000" stroke="#000" stroke-width="0.83">Temperature</text>
<text transform="translate(475.99,1838) scale(0.3864,0.3191)" font-size="100" fill="#000" stroke="#000" stroke-width="0.88">(</text>
<text transform="translate(532.21,1838) scale(0.3477,0.3191)" font-size="100" fill="#000" stroke="#000" stroke-width="0.88">)</text>
<path d="M524.79,1818.47 A11.85,11.71 0 1 0 524.79,1836.93" fill="none" stroke="#000" stroke-width="1.7"/>
<path d="M524.79,1816.97 V1822.97" fill="none" stroke="#000" stroke-width="1.3"/>
<circle cx="501.42" cy="1819.3" r="3.42" fill="none" stroke="#000" stroke-width="1.2"/>
<path d="M933.2,1288.2 V1749.3" stroke="#555" stroke-width="1.45" fill="none"/>
<path d="M933.2,1288.2 H1407.1" stroke="#555" stroke-width="1.45" fill="none"/>
<path d="M933.2,1749.3 H1405.8" stroke="#555" stroke-width="1.45" fill="none"/>
<line x1="917.7" y1="1288.2" x2="933.2" y2="1288.2" stroke="#555" stroke-width="1.35"/>
<line x1="925.7" y1="1345.84" x2="933.2" y2="1345.84" stroke="#555" stroke-width="1.35"/>
<line x1="917.7" y1="1403.47" x2="933.2" y2="1403.47" stroke="#555" stroke-width="1.35"/>
<line x1="925.7" y1="1461.11" x2="933.2" y2="1461.11" stroke="#555" stroke-width="1.35"/>
<line x1="917.7" y1="1518.75" x2="933.2" y2="1518.75" stroke="#555" stroke-width="1.35"/>
<line x1="925.7" y1="1576.39" x2="933.2" y2="1576.39" stroke="#555" stroke-width="1.35"/>
<line x1="917.7" y1="1634.03" x2="933.2" y2="1634.03" stroke="#555" stroke-width="1.35"/>
<line x1="925.7" y1="1691.66" x2="933.2" y2="1691.66" stroke="#555" stroke-width="1.35"/>
<line x1="917.7" y1="1749.3" x2="933.2" y2="1749.3" stroke="#555" stroke-width="1.35"/>
<line x1="933.2" y1="1273.2" x2="933.2" y2="1288.2" stroke="#555" stroke-width="1.35"/>
<line x1="980.59" y1="1280.7" x2="980.59" y2="1288.2" stroke="#555" stroke-width="1.35"/>
<line x1="1027.98" y1="1273.2" x2="1027.98" y2="1288.2" stroke="#555" stroke-width="1.35"/>
<line x1="1075.37" y1="1280.7" x2="1075.37" y2="1288.2" stroke="#555" stroke-width="1.35"/>
<line x1="1122.76" y1="1273.2" x2="1122.76" y2="1288.2" stroke="#555" stroke-width="1.35"/>
<line x1="1170.15" y1="1280.7" x2="1170.15" y2="1288.2" stroke="#555" stroke-width="1.35"/>
<line x1="1217.54" y1="1273.2" x2="1217.54" y2="1288.2" stroke="#555" stroke-width="1.35"/>
<line x1="1264.93" y1="1280.7" x2="1264.93" y2="1288.2" stroke="#555" stroke-width="1.35"/>
<line x1="1312.32" y1="1273.2" x2="1312.32" y2="1288.2" stroke="#555" stroke-width="1.35"/>
<line x1="1359.71" y1="1280.7" x2="1359.71" y2="1288.2" stroke="#555" stroke-width="1.35"/>
<line x1="1407.1" y1="1273.2" x2="1407.1" y2="1288.2" stroke="#555" stroke-width="1.35"/>
<line x1="933.2" y1="1749.3" x2="933.2" y2="1764.3" stroke="#555" stroke-width="1.35"/>
<line x1="992.28" y1="1749.3" x2="992.28" y2="1756.8" stroke="#555" stroke-width="1.35"/>
<line x1="1051.35" y1="1749.3" x2="1051.35" y2="1764.3" stroke="#555" stroke-width="1.35"/>
<line x1="1110.42" y1="1749.3" x2="1110.42" y2="1756.8" stroke="#555" stroke-width="1.35"/>
<line x1="1169.5" y1="1749.3" x2="1169.5" y2="1764.3" stroke="#555" stroke-width="1.35"/>
<line x1="1228.58" y1="1749.3" x2="1228.58" y2="1756.8" stroke="#555" stroke-width="1.35"/>
<line x1="1287.65" y1="1749.3" x2="1287.65" y2="1764.3" stroke="#555" stroke-width="1.35"/>
<line x1="1346.72" y1="1749.3" x2="1346.72" y2="1756.8" stroke="#555" stroke-width="1.35"/>
<line x1="1405.8" y1="1749.3" x2="1405.8" y2="1764.3" stroke="#555" stroke-width="1.35"/>
<path d="M982.9,1312 C986.42,1316.02 995.58,1327.93 1004,1336.1 C1012.42,1344.27 1022.15,1353.9 1033.4,1361 C1044.65,1368.1 1057.8,1374.43 1071.5,1378.7 C1085.2,1382.97 1098.97,1385.88 1115.6,1386.6 C1132.23,1387.32 1158.1,1383.1 1171.3,1383 C1184.5,1382.9 1185.02,1382.57 1194.8,1386 C1204.58,1389.43 1217.77,1395.28 1230,1403.6 C1242.23,1411.92 1256.95,1424.17 1268.2,1435.9 C1279.45,1447.63 1288.93,1460.8 1297.5,1474 C1306.07,1487.2 1314.22,1504.4 1319.6,1515.1 C1324.98,1525.8 1324.67,1526.05 1329.8,1538.2 C1334.93,1550.35 1344.03,1570.88 1350.4,1588 C1356.77,1605.12 1363.12,1623.77 1368,1640.9 C1372.88,1658.03 1376.77,1673.92 1379.7,1690.8 C1382.63,1707.68 1384.62,1733.63 1385.6,1742.2" fill="none" stroke="#dc00f2" stroke-width="4.3" stroke-linecap="round" stroke-linejoin="round"/>
<path d="M1366.5,1311.7 C1359.9,1312.33 1338.4,1314.12 1326.9,1315.5 C1315.4,1316.88 1306.3,1318.28 1297.5,1320 C1288.7,1321.72 1283.88,1324.43 1274.1,1325.8 C1264.32,1327.17 1252.02,1327.57 1238.8,1328.2 C1225.58,1328.83 1205.07,1329.02 1194.8,1329.6 C1184.53,1330.18 1183.55,1330.37 1177.2,1331.7 C1170.85,1333.03 1162.08,1335.3 1156.7,1337.6 C1151.32,1339.9 1150.28,1343.4 1144.9,1345.5 C1139.52,1347.6 1131.73,1348.73 1124.4,1350.2 C1117.07,1351.67 1107.75,1352.73 1100.9,1354.3 C1094.05,1355.87 1089.17,1356.77 1083.3,1359.6 C1077.43,1362.43 1072.07,1366.42 1065.7,1371.3 C1059.33,1376.18 1051.95,1382.28 1045.1,1388.9 C1038.25,1395.52 1030.95,1403.65 1024.6,1411 C1018.25,1418.35 1011.17,1426.9 1007,1433 C1002.83,1439.1 1001.32,1441.25 999.6,1447.6 C997.88,1453.95 998.17,1459.85 996.7,1471.1 C995.23,1482.35 992.27,1501.48 990.8,1515.1 C989.33,1528.72 989.12,1536.73 987.9,1552.8 C986.68,1568.87 984.33,1595.83 983.5,1611.5 C982.67,1627.17 983.4,1633.58 982.9,1646.8 C982.4,1660.02 981.28,1675.15 980.5,1690.8 C979.72,1706.45 978.58,1732.38 978.2,1740.7" fill="none" stroke="#d40000" stroke-width="4.5" stroke-linecap="round" stroke-linejoin="round"/>
<text transform="translate(939.63,1322.79) scale(0.4132,0.3862)" font-size="100" font-weight="bold" fill="#000">(H)</text>
<text transform="translate(1115.69,1732.93) scale(0.3513,0.3718)" font-size="100" fill="#000" stroke="#000" stroke-width="0.75">14:00</text>
<text transform="translate(1082.81,1215.64) scale(0.3770,0.3649)" font-size="100" fill="#000" stroke="#000" stroke-width="0.77">SSC(mg/L)</text>
<text transform="translate(925.41,1256.9) scale(0.3014,0.3014)" font-size="100" fill="#000" stroke="#000" stroke-width="0.93">3</text>
<text transform="translate(1019.83,1257.51) scale(0.3147,0.3147)" font-size="100" fill="#000" stroke="#000" stroke-width="0.89">4</text>
<text transform="translate(1114.85,1256.89) scale(0.3057,0.3057)" font-size="100" fill="#000" stroke="#000" stroke-width="0.92">5</text>
<text transform="translate(1209.6,1256.9) scale(0.3014,0.3014)" font-size="100" fill="#000" stroke="#000" stroke-width="0.93">6</text>
<text transform="translate(1304.01,1257.51) scale(0.3147,0.3147)" font-size="100" fill="#000" stroke="#000" stroke-width="0.89">7</text>
<text transform="translate(1399.31,1256.9) scale(0.3014,0.3014)" font-size="100" fill="#000" stroke="#000" stroke-width="0.93">8</text>
<text transform="translate(916.4,1800) scale(0.3000,0.3000)" font-size="100" fill="#000" stroke="#000" stroke-width="0.93">12</text>
<text transform="translate(1034.64,1799.7) scale(0.2958,0.2958)" font-size="100" fill="#000" stroke="#000" stroke-width="0.95">13</text>
<text transform="translate(1152.15,1800) scale(0.3043,0.3043)" font-size="100" fill="#000" stroke="#000" stroke-width="0.92">14</text>
<text transform="translate(1270.7,1799.7) scale(0.3000,0.3000)" font-size="100" fill="#000" stroke="#000" stroke-width="0.93">15</text>
<text transform="translate(1389.09,1799.7) scale(0.2958,0.2958)" font-size="100" fill="#000" stroke="#000" stroke-width="0.95">16</text>
<text transform="translate(893.32,1298.4) scale(0.2958,0.2958)" font-size="100" fill="#000" stroke="#000" stroke-width="0.95">0</text>
<text transform="translate(883.5,1413.97) scale(0.3000,0.3000)" font-size="100" fill="#000" stroke="#000" stroke-width="0.93">-2</text>
<text transform="translate(882.14,1529.56) scale(0.3088,0.3088)" font-size="100" fill="#000" stroke="#000" stroke-width="0.91">-4</text>
<text transform="translate(883.85,1644.23) scale(0.2958,0.2958)" font-size="100" fill="#000" stroke="#000" stroke-width="0.95">-6</text>
<text transform="translate(883.85,1759.5) scale(0.2958,0.2958)" font-size="100" fill="#000" stroke="#000" stroke-width="0.95">-8</text>
<text transform="translate(863.04,1594.75) rotate(-90) scale(0.3683,0.3649)" font-size="100" fill="#000" stroke="#000" stroke-width="0.77">Depth</text>
<text transform="translate(863.18,1478.6) rotate(-90) scale(0.3237,0.3452)" font-size="100" fill="#000" stroke="#000" stroke-width="0.81">m</text>
<path d="M834.96,1481.9 Q850.41,1496.94 865.86,1481.9" fill="none" stroke="#000" stroke-width="2.37"/>
<path d="M834.96,1446.88 Q849.79,1431.64 865.86,1446.88" fill="none" stroke="#000" stroke-width="2.37"/>
<text transform="translate(1036.66,1834.75) scale(0.3707,0.3689)" font-size="100" fill="#000" stroke="#000" stroke-width="0.76">Temperature</text>
<text transform="translate(1242.83,1834.64) scale(0.3997,0.3471)" font-size="100" fill="#000" stroke="#000" stroke-width="0.81">(</text>
<text transform="translate(1300.99,1834.64) scale(0.3597,0.3471)" font-size="100" fill="#000" stroke="#000" stroke-width="0.81">)</text>
<path d="M1293.31,1813.32 A12.26,12.73 0 1 0 1293.31,1833.38" fill="none" stroke="#000" stroke-width="1.7"/>
<path d="M1293.31,1811.82 V1817.82" fill="none" stroke="#000" stroke-width="1.3"/>
<circle cx="1269.13" cy="1813.9" r="3.53" fill="none" stroke="#000" stroke-width="1.2"/>
</svg></body></html>
